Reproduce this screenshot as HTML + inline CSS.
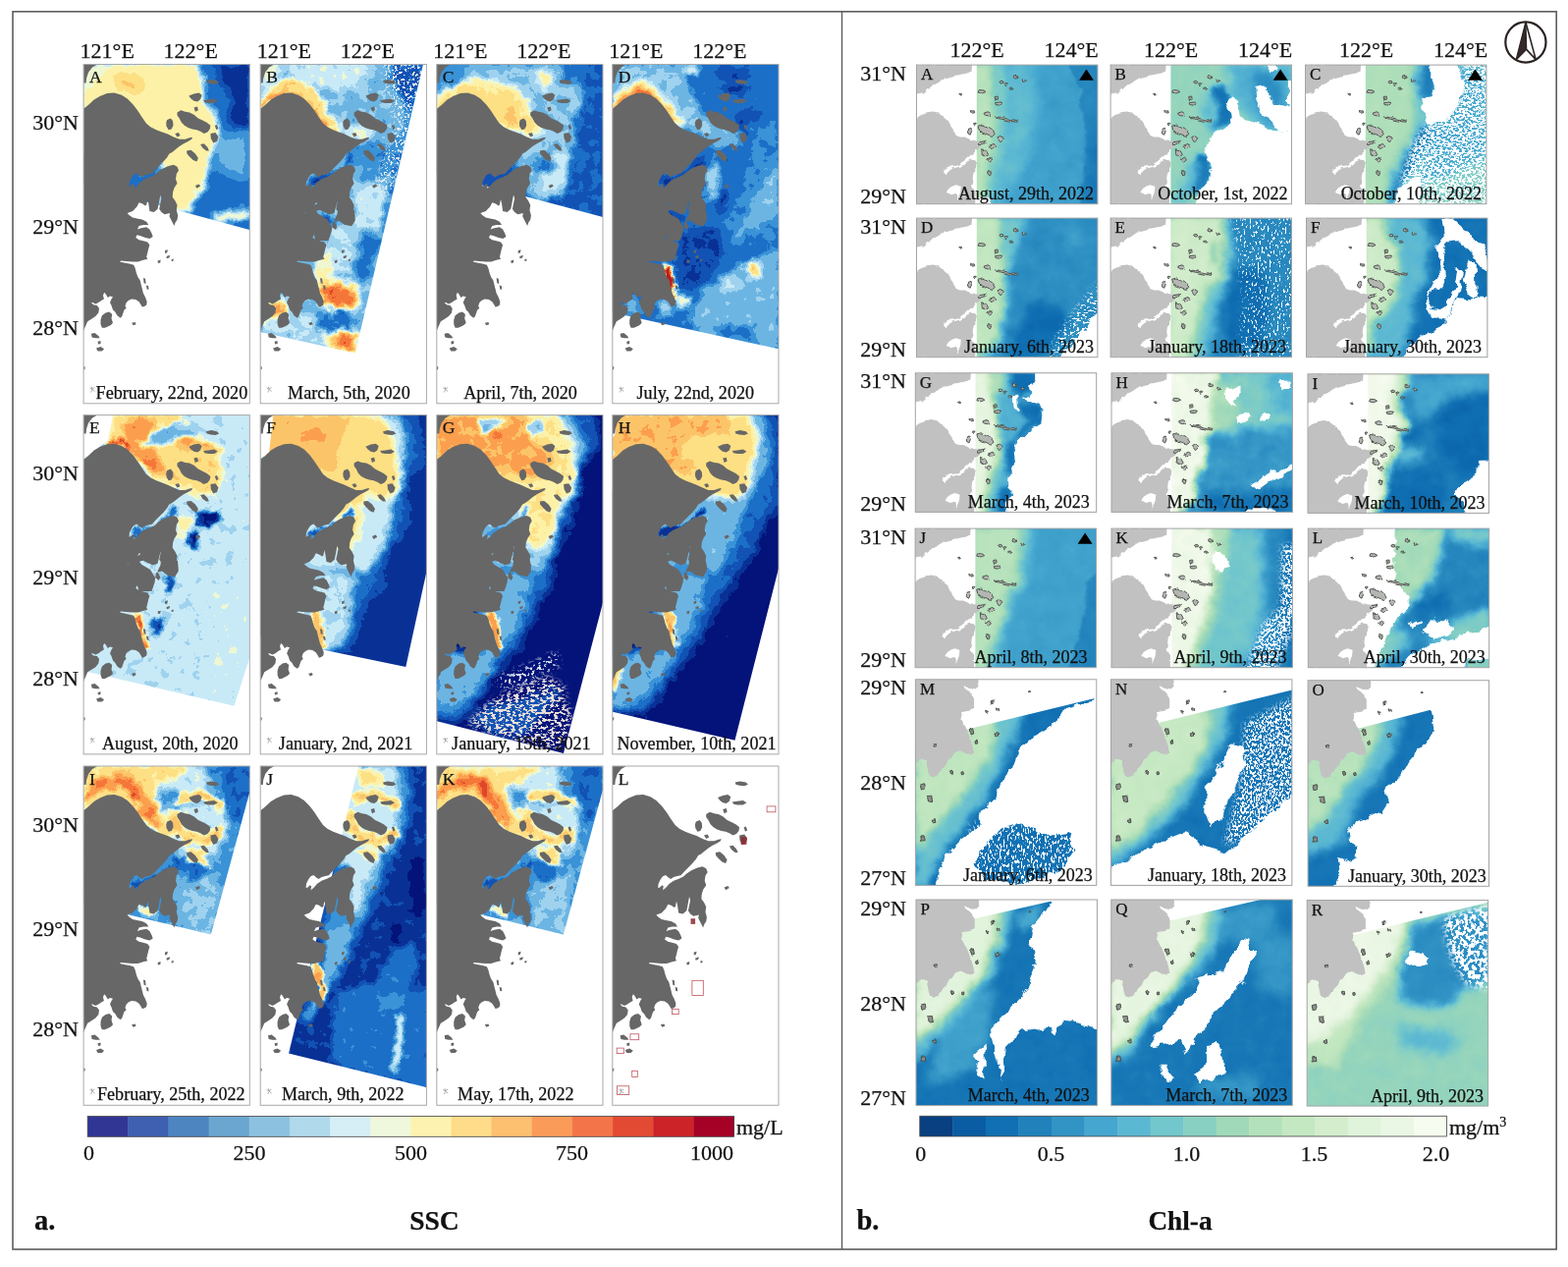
<!DOCTYPE html>
<html><head><meta charset="utf-8"><title>SSC and Chl-a maps</title>
<style>html,body{margin:0;padding:0;background:#fff;overflow:hidden}svg{display:block}text{font-family:'Liberation Serif','Times New Roman',serif;fill:#111;stroke:#111;stroke-width:0.25px}</style></head><body>
<svg width="1597" height="1290" viewBox="0 0 1597 1290">
<rect width="1597" height="1290" fill="#fff"/>
<defs><path id="landL" d="M0.0,45.3 4.8,41.6 10.7,36.0 16.6,32.4 24.0,29.6 31.4,29.1 38.7,31.3 44.6,35.0 50.5,40.9 54.9,46.8 59.3,53.4 63.8,60.1 68.2,63.7 74.1,66.7 80.0,68.9 85.8,71.1 91.7,74.0 97.6,76.3 103.5,76.3 107.9,74.8 110.9,74.3 110.1,76.3 106.5,78.5 102.0,80.7 97.6,83.6 93.9,86.6 90.3,89.5 87.3,91.0 85.1,94.7 81.4,99.1 78.5,102.0 75.5,105.0 72.6,107.9 69.6,111.2 66.0,112.0 62.3,113.1 59.3,115.0 56.4,113.1 54.2,110.9 51.2,112.3 49.0,115.3 46.8,119.7 46.4,124.1 48.3,123.4 50.5,121.2 52.0,122.6 51.2,126.3 54.2,124.1 57.9,119.7 62.3,116.8 68.2,114.5 72.6,112.3 75.5,109.4 80.0,106.4 85.8,103.8 91.7,102.3 95.4,104.2 96.9,107.9 94.7,111.6 93.9,116.8 95.4,121.2 92.5,125.6 91.0,130.0 90.6,135.2 93.2,138.8 95.4,143.3 94.7,148.4 96.1,153.7 95.5,158.1 93.4,161.3 92.3,164.6 90.7,161.3 89.0,158.1 87.4,154.8 88.0,151.6 82.5,152.7 79.3,150.5 77.1,147.2 78.2,141.8 79.3,136.4 78.2,133.1 76.6,141.8 75.5,147.2 71.7,150.5 67.3,149.4 66.2,141.8 65.2,137.5 64.1,142.9 63.0,144.0 59.7,141.8 56.5,140.7 54.3,145.1 50.0,149.4 44.5,151.6 46.7,153.7 50.0,155.9 54.3,157.0 59.7,158.1 64.1,160.3 66.2,163.5 60.8,163.5 56.5,164.6 54.8,167.9 58.6,166.8 64.1,165.7 67.3,167.9 69.5,172.2 70.6,175.5 67.3,177.6 63.0,176.5 57.6,174.4 54.3,173.8 53.2,176.5 56.5,178.7 60.8,179.8 65.2,180.9 67.3,184.1 66.2,187.4 65.2,191.7 64.1,196.1 65.2,198.2 60.8,199.3 55.4,201.0 50.0,201.0 43.5,200.4 38.0,199.9 36.9,201.0 41.3,202.0 46.7,203.1 51.1,204.2 52.7,208.0 53.8,212.4 55.4,216.7 57.6,219.9 58.6,224.3 59.7,228.6 60.8,233.0 63.0,237.3 64.6,241.7 64.1,244.9 61.9,246.5 59.7,247.1 58.6,244.9 56.5,241.7 53.2,239.5 48.9,238.9 45.6,240.6 43.5,242.7 42.4,246.0 43.5,248.2 41.3,250.3 40.2,253.6 39.1,256.8 36.9,258.5 37.2,258.0 34.3,255.8 32.1,252.1 29.9,249.9 28.4,245.5 26.9,242.6 28.4,238.9 29.9,236.7 26.9,235.9 24.7,237.4 22.5,233.7 21.0,232.3 19.9,235.2 20.8,238.9 18.1,240.4 15.2,242.6 12.2,244.0 9.3,242.6 7.8,242.6 10.0,244.8 13.7,245.5 15.9,248.5 15.2,252.9 12.2,256.6 7.8,259.5 4.1,261.7 2.2,266.1 -0.0,271.3 0.0,45.0ZM17.4,260.2 18.8,255.8 22.5,252.9 26.2,252.1 29.1,254.4 28.4,258.8 29.9,263.2 27.7,265.4 24.7,266.9 21.8,268.3 18.8,268.3 17.4,264.7ZM0.0,0.0 14.0,0.0 9.0,3.0 5.0,8.0 3.0,14.0 2.5,19.0 0.0,19.0ZM95.4,49.0 99.1,46.8 103.5,48.3 107.9,49.0 112.4,51.2 116.8,54.9 121.2,57.1 125.6,59.3 129.3,62.3 128.6,65.9 126.3,68.9 122.7,70.4 119.0,68.2 115.3,66.7 110.9,65.9 106.5,64.5 102.8,62.3 99.8,59.3 97.6,54.9 95.4,52.0ZM85.1,56.4 88.8,54.9 91.0,57.8 91.4,62.3 89.5,65.9 86.6,66.7 84.4,63.0 84.1,59.3ZM107.2,32.1 112.4,29.9 117.5,29.1 120.5,31.3 119.0,35.8 116.0,38.0 112.4,37.2 109.4,35.0ZM121.9,36.5 127.1,35.8 133.0,35.0 136.7,37.2 133.0,39.4 127.1,39.4 123.4,38.7ZM124.9,16.6 130.0,15.4 135.9,16.6 138.1,18.8 134.4,20.3 129.3,19.8 125.6,18.8ZM112.4,43.9 116.0,43.1 116.8,46.8 113.8,48.3ZM105.0,88.0 109.4,87.3 113.8,91.0 116.8,95.4 115.3,99.1 111.6,97.6 107.9,93.9 105.3,91.0ZM119.0,81.4 122.7,80.7 126.3,84.4 127.8,88.0 124.9,88.0 121.2,85.1ZM129.3,70.4 134.4,69.6 137.4,74.0 135.9,78.5 132.2,79.9 129.7,75.5ZM93.2,70.4 96.9,69.6 98.4,72.6 95.4,74.0ZM133.7,62.3 135.9,61.5 137.4,65.2 135.2,66.7ZM113.8,123.4 117.5,121.9 119.0,124.1 115.3,126.3ZM7.8,274.2 11.5,273.5 15.2,276.4 16.6,278.7 12.2,278.7 8.5,277.9ZM12.9,289.0 17.4,287.5 21.0,289.7 18.8,291.9 14.4,291.9ZM82.9,189.6 85.8,188.8 85.1,191.8 82.9,192.5ZM84.4,195.4 88.1,194.3 87.3,196.9 84.7,197.7ZM75.5,199.9 78.5,199.1 78.2,202.1 75.8,202.5ZM89.5,198.4 91.7,198.1 91.4,200.2 89.7,200.5ZM60.8,217.5 63.0,218.3 63.5,223.4 61.5,222.7ZM63.8,224.9 66.0,225.6 66.4,229.3 64.5,229.0ZM49.0,263.2 52.7,262.5 53.4,264.7 50.5,265.8ZM14.4,282.3 17.4,281.6 17.4,284.5 14.9,285.0ZM-0.0,307.4 1.6,308.1 1.3,310.6 -0.0,311.1Z" fill="#676767"/>
<clipPath id="clipL"><rect x="0" y="0" width="169.2" height="345.3"/></clipPath>
<filter id="fL0" x="-20%" y="-10%" width="140%" height="120%" color-interpolation-filters="sRGB"><feGaussianBlur in="SourceGraphic" stdDeviation="0.80" result="b"/><feTurbulence type="fractalNoise" baseFrequency="0.090" numOctaves="4" seed="3" result="n"/><feDisplacementMap in="b" in2="n" scale="8.0" xChannelSelector="R" yChannelSelector="G" result="d"/><feComponentTransfer in="d"><feFuncR type="discrete" tableValues="0.012 0.039 0.067 0.110 0.231 0.427 0.624 0.788 0.933 0.992 0.996 0.992 0.988 0.961 0.878 0.722"/><feFuncG type="discrete" tableValues="0.078 0.196 0.322 0.439 0.576 0.710 0.827 0.918 0.973 0.949 0.878 0.769 0.627 0.463 0.282 0.114"/><feFuncB type="discrete" tableValues="0.475 0.588 0.706 0.784 0.847 0.894 0.937 0.969 0.831 0.651 0.518 0.408 0.306 0.227 0.165 0.141"/><feFuncA type="linear" slope="0" intercept="1"/></feComponentTransfer></filter>
<clipPath id="swL0"><polygon points="-5.0,-5.0 175.0,-5.0 175.0,170.0 98.2,149.3 -5.0,121.0" fill="#000"/></clipPath>
<filter id="fL1" x="-20%" y="-10%" width="140%" height="120%" color-interpolation-filters="sRGB"><feGaussianBlur in="SourceGraphic" stdDeviation="0.80" result="b"/><feTurbulence type="fractalNoise" baseFrequency="0.090" numOctaves="4" seed="4" result="n"/><feDisplacementMap in="b" in2="n" scale="12.0" xChannelSelector="R" yChannelSelector="G" result="d"/><feColorMatrix in="n" type="matrix" values="0 0 1 0 0  0 0 1 0 0  0 0 1 0 0  0 0 0 0 1" result="ng"/><feComposite in="d" in2="ng" operator="arithmetic" k1="0" k2="1" k3="0.160" k4="-0.080" result="dn"/><feComponentTransfer in="dn"><feFuncR type="discrete" tableValues="0.012 0.039 0.067 0.110 0.231 0.427 0.624 0.788 0.933 0.992 0.996 0.992 0.988 0.961 0.878 0.722"/><feFuncG type="discrete" tableValues="0.078 0.196 0.322 0.439 0.576 0.710 0.827 0.918 0.973 0.949 0.878 0.769 0.627 0.463 0.282 0.114"/><feFuncB type="discrete" tableValues="0.475 0.588 0.706 0.784 0.847 0.894 0.937 0.969 0.831 0.651 0.518 0.408 0.306 0.227 0.165 0.141"/><feFuncA type="linear" slope="0" intercept="1"/></feComponentTransfer></filter>
<clipPath id="swL1"><polygon points="-5.0,-5.0 167.2,-5.0 165.8,0.0 96.6,294.1 -5.0,271.5" fill="#000"/></clipPath>
<filter id="spL1_0" x="-10%" y="-10%" width="120%" height="120%" color-interpolation-filters="sRGB"><feTurbulence type="fractalNoise" baseFrequency="0.4 0.4" numOctaves="2" seed="10" result="n"/><feColorMatrix in="n" type="matrix" values="0 0 0 0 0.957  0 0 0 0 0.945  0 0 0 0 0.933  14 0 0 0 -7.70" result="sp"/><feGaussianBlur in="SourceAlpha" stdDeviation="3" result="sa"/><feComposite in="sp" in2="sa" operator="in"/></filter>
<filter id="fL2" x="-20%" y="-10%" width="140%" height="120%" color-interpolation-filters="sRGB"><feGaussianBlur in="SourceGraphic" stdDeviation="0.80" result="b"/><feTurbulence type="fractalNoise" baseFrequency="0.090" numOctaves="4" seed="5" result="n"/><feDisplacementMap in="b" in2="n" scale="12.0" xChannelSelector="R" yChannelSelector="G" result="d"/><feColorMatrix in="n" type="matrix" values="0 0 1 0 0  0 0 1 0 0  0 0 1 0 0  0 0 0 0 1" result="ng"/><feComposite in="d" in2="ng" operator="arithmetic" k1="0" k2="1" k3="0.080" k4="-0.040" result="dn"/><feComponentTransfer in="dn"><feFuncR type="discrete" tableValues="0.012 0.039 0.067 0.110 0.231 0.427 0.624 0.788 0.933 0.992 0.996 0.992 0.988 0.961 0.878 0.722"/><feFuncG type="discrete" tableValues="0.078 0.196 0.322 0.439 0.576 0.710 0.827 0.918 0.973 0.949 0.878 0.769 0.627 0.463 0.282 0.114"/><feFuncB type="discrete" tableValues="0.475 0.588 0.706 0.784 0.847 0.894 0.937 0.969 0.831 0.651 0.518 0.408 0.306 0.227 0.165 0.141"/><feFuncA type="linear" slope="0" intercept="1"/></feComponentTransfer></filter>
<clipPath id="swL2"><polygon points="-5.0,-5.0 175.0,-5.0 175.0,157.0 98.9,136.8 -5.0,109.5" fill="#000"/></clipPath>
<filter id="fL3" x="-20%" y="-10%" width="140%" height="120%" color-interpolation-filters="sRGB"><feGaussianBlur in="SourceGraphic" stdDeviation="0.80" result="b"/><feTurbulence type="fractalNoise" baseFrequency="0.090" numOctaves="4" seed="6" result="n"/><feDisplacementMap in="b" in2="n" scale="12.0" xChannelSelector="R" yChannelSelector="G" result="d"/><feColorMatrix in="n" type="matrix" values="0 0 1 0 0  0 0 1 0 0  0 0 1 0 0  0 0 0 0 1" result="ng"/><feComposite in="d" in2="ng" operator="arithmetic" k1="0" k2="1" k3="0.100" k4="-0.050" result="dn"/><feComponentTransfer in="dn"><feFuncR type="discrete" tableValues="0.012 0.039 0.067 0.110 0.231 0.427 0.624 0.788 0.933 0.992 0.996 0.992 0.988 0.961 0.878 0.722"/><feFuncG type="discrete" tableValues="0.078 0.196 0.322 0.439 0.576 0.710 0.827 0.918 0.973 0.949 0.878 0.769 0.627 0.463 0.282 0.114"/><feFuncB type="discrete" tableValues="0.475 0.588 0.706 0.784 0.847 0.894 0.937 0.969 0.831 0.651 0.518 0.408 0.306 0.227 0.165 0.141"/><feFuncA type="linear" slope="0" intercept="1"/></feComponentTransfer></filter>
<clipPath id="swL3"><polygon points="-5.0,-5.0 175.0,-5.0 175.0,291.0 34.2,260.2 -5.0,251.5" fill="#000"/></clipPath>
<filter id="fL4" x="-20%" y="-10%" width="140%" height="120%" color-interpolation-filters="sRGB"><feGaussianBlur in="SourceGraphic" stdDeviation="0.80" result="b"/><feTurbulence type="fractalNoise" baseFrequency="0.090" numOctaves="4" seed="7" result="n"/><feDisplacementMap in="b" in2="n" scale="12.0" xChannelSelector="R" yChannelSelector="G" result="d"/><feColorMatrix in="n" type="matrix" values="0 0 1 0 0  0 0 1 0 0  0 0 1 0 0  0 0 0 0 1" result="ng"/><feComposite in="d" in2="ng" operator="arithmetic" k1="0" k2="1" k3="0.120" k4="-0.060" result="dn"/><feComponentTransfer in="dn"><feFuncR type="discrete" tableValues="0.012 0.039 0.067 0.110 0.231 0.427 0.624 0.788 0.933 0.992 0.996 0.992 0.988 0.961 0.878 0.722"/><feFuncG type="discrete" tableValues="0.078 0.196 0.322 0.439 0.576 0.710 0.827 0.918 0.973 0.949 0.878 0.769 0.627 0.463 0.282 0.114"/><feFuncB type="discrete" tableValues="0.475 0.588 0.706 0.784 0.847 0.894 0.937 0.969 0.831 0.651 0.518 0.408 0.306 0.227 0.165 0.141"/><feFuncA type="linear" slope="0" intercept="1"/></feComponentTransfer></filter>
<clipPath id="swL4"><polygon points="30.4,-1.8 171.1,-1.8 171.1,241.0 153.4,296.2 -1.3,260.1 -1.3,45.4 24.5,26.2" fill="#000"/></clipPath>
<filter id="fL5" x="-20%" y="-10%" width="140%" height="120%" color-interpolation-filters="sRGB"><feGaussianBlur in="SourceGraphic" stdDeviation="0.80" result="b"/><feTurbulence type="fractalNoise" baseFrequency="0.090" numOctaves="4" seed="8" result="n"/><feDisplacementMap in="b" in2="n" scale="10.0" xChannelSelector="R" yChannelSelector="G" result="d"/><feColorMatrix in="n" type="matrix" values="0 0 1 0 0  0 0 1 0 0  0 0 1 0 0  0 0 0 0 1" result="ng"/><feComposite in="d" in2="ng" operator="arithmetic" k1="0" k2="1" k3="0.070" k4="-0.035" result="dn"/><feComponentTransfer in="dn"><feFuncR type="discrete" tableValues="0.012 0.039 0.067 0.110 0.231 0.427 0.624 0.788 0.933 0.992 0.996 0.992 0.988 0.961 0.878 0.722"/><feFuncG type="discrete" tableValues="0.078 0.196 0.322 0.439 0.576 0.710 0.827 0.918 0.973 0.949 0.878 0.769 0.627 0.463 0.282 0.114"/><feFuncB type="discrete" tableValues="0.475 0.588 0.706 0.784 0.847 0.894 0.937 0.969 0.831 0.651 0.518 0.408 0.306 0.227 0.165 0.141"/><feFuncA type="linear" slope="0" intercept="1"/></feComponentTransfer></filter>
<clipPath id="swL5"><polygon points="13.4,-1.8 171.0,-1.8 171.0,151.4 148.1,256.5 63.4,238.8 -1.4,225.2 -1.4,45.4 8.9,38.0" fill="#000"/></clipPath>
<filter id="fL6" x="-20%" y="-10%" width="140%" height="120%" color-interpolation-filters="sRGB"><feGaussianBlur in="SourceGraphic" stdDeviation="0.80" result="b"/><feTurbulence type="fractalNoise" baseFrequency="0.090" numOctaves="4" seed="9" result="n"/><feDisplacementMap in="b" in2="n" scale="10.0" xChannelSelector="R" yChannelSelector="G" result="d"/><feColorMatrix in="n" type="matrix" values="0 0 1 0 0  0 0 1 0 0  0 0 1 0 0  0 0 0 0 1" result="ng"/><feComposite in="d" in2="ng" operator="arithmetic" k1="0" k2="1" k3="0.070" k4="-0.035" result="dn"/><feComponentTransfer in="dn"><feFuncR type="discrete" tableValues="0.012 0.039 0.067 0.110 0.231 0.427 0.624 0.788 0.933 0.992 0.996 0.992 0.988 0.961 0.878 0.722"/><feFuncG type="discrete" tableValues="0.078 0.196 0.322 0.439 0.576 0.710 0.827 0.918 0.973 0.949 0.878 0.769 0.627 0.463 0.282 0.114"/><feFuncB type="discrete" tableValues="0.475 0.588 0.706 0.784 0.847 0.894 0.937 0.969 0.831 0.651 0.518 0.408 0.306 0.227 0.165 0.141"/><feFuncA type="linear" slope="0" intercept="1"/></feComponentTransfer></filter>
<clipPath id="swL6"><polygon points="-5.0,-5.0 175.0,-5.0 170.4,186.5 129.1,344.4 -2.0,311.1" fill="#000"/></clipPath>
<filter id="spL6_0" x="-10%" y="-10%" width="120%" height="120%" color-interpolation-filters="sRGB"><feTurbulence type="fractalNoise" baseFrequency="0.25 0.4" numOctaves="2" seed="15" result="n"/><feColorMatrix in="n" type="matrix" values="0 0 0 0 0.918  0 0 0 0 0.875  0 0 0 0 0.847  14 0 0 0 -7.00" result="sp"/><feGaussianBlur in="SourceAlpha" stdDeviation="3" result="sa"/><feComposite in="sp" in2="sa" operator="in"/></filter>
<filter id="spL6_1" x="-10%" y="-10%" width="120%" height="120%" color-interpolation-filters="sRGB"><feTurbulence type="fractalNoise" baseFrequency="0.3 0.3" numOctaves="2" seed="16" result="n"/><feColorMatrix in="n" type="matrix" values="0 0 0 0 0.875  0 0 0 0 0.914  0 0 0 0 0.949  14 0 0 0 -7.84" result="sp"/><feGaussianBlur in="SourceAlpha" stdDeviation="3" result="sa"/><feComposite in="sp" in2="sa" operator="in"/></filter>
<filter id="fL7" x="-20%" y="-10%" width="140%" height="120%" color-interpolation-filters="sRGB"><feGaussianBlur in="SourceGraphic" stdDeviation="0.80" result="b"/><feTurbulence type="fractalNoise" baseFrequency="0.090" numOctaves="4" seed="10" result="n"/><feDisplacementMap in="b" in2="n" scale="10.0" xChannelSelector="R" yChannelSelector="G" result="d"/><feColorMatrix in="n" type="matrix" values="0 0 1 0 0  0 0 1 0 0  0 0 1 0 0  0 0 0 0 1" result="ng"/><feComposite in="d" in2="ng" operator="arithmetic" k1="0" k2="1" k3="0.070" k4="-0.035" result="dn"/><feComponentTransfer in="dn"><feFuncR type="discrete" tableValues="0.012 0.039 0.067 0.110 0.231 0.427 0.624 0.788 0.933 0.992 0.996 0.992 0.988 0.961 0.878 0.722"/><feFuncG type="discrete" tableValues="0.078 0.196 0.322 0.439 0.576 0.710 0.827 0.918 0.973 0.949 0.878 0.769 0.627 0.463 0.282 0.114"/><feFuncB type="discrete" tableValues="0.475 0.588 0.706 0.784 0.847 0.894 0.937 0.969 0.831 0.651 0.518 0.408 0.306 0.227 0.165 0.141"/><feFuncA type="linear" slope="0" intercept="1"/></feComponentTransfer></filter>
<clipPath id="swL7"><polygon points="5.4,-1.8 170.4,-1.8 170.4,151.4 124.7,331.1 -2.0,301.7 -2.0,26.2 3.2,18.9 3.2,8.5" fill="#000"/></clipPath>
<filter id="fL8" x="-20%" y="-10%" width="140%" height="120%" color-interpolation-filters="sRGB"><feGaussianBlur in="SourceGraphic" stdDeviation="0.80" result="b"/><feTurbulence type="fractalNoise" baseFrequency="0.090" numOctaves="4" seed="11" result="n"/><feDisplacementMap in="b" in2="n" scale="12.0" xChannelSelector="R" yChannelSelector="G" result="d"/><feColorMatrix in="n" type="matrix" values="0 0 1 0 0  0 0 1 0 0  0 0 1 0 0  0 0 0 0 1" result="ng"/><feComposite in="d" in2="ng" operator="arithmetic" k1="0" k2="1" k3="0.160" k4="-0.080" result="dn"/><feComponentTransfer in="dn"><feFuncR type="discrete" tableValues="0.012 0.039 0.067 0.110 0.231 0.427 0.624 0.788 0.933 0.992 0.996 0.992 0.988 0.961 0.878 0.722"/><feFuncG type="discrete" tableValues="0.078 0.196 0.322 0.439 0.576 0.710 0.827 0.918 0.973 0.949 0.878 0.769 0.627 0.463 0.282 0.114"/><feFuncB type="discrete" tableValues="0.475 0.588 0.706 0.784 0.847 0.894 0.937 0.969 0.831 0.651 0.518 0.408 0.306 0.227 0.165 0.141"/><feFuncA type="linear" slope="0" intercept="1"/></feComponentTransfer></filter>
<clipPath id="swL8"><polygon points="-5.0,-5.0 175.0,-5.0 171.1,19.5 129.8,171.5 -1.3,139.9" fill="#000"/></clipPath>
<filter id="fL9" x="-20%" y="-10%" width="140%" height="120%" color-interpolation-filters="sRGB"><feGaussianBlur in="SourceGraphic" stdDeviation="0.80" result="b"/><feTurbulence type="fractalNoise" baseFrequency="0.090" numOctaves="4" seed="12" result="n"/><feDisplacementMap in="b" in2="n" scale="10.0" xChannelSelector="R" yChannelSelector="G" result="d"/><feColorMatrix in="n" type="matrix" values="0 0 1 0 0  0 0 1 0 0  0 0 1 0 0  0 0 0 0 1" result="ng"/><feComposite in="d" in2="ng" operator="arithmetic" k1="0" k2="1" k3="0.080" k4="-0.040" result="dn"/><feComponentTransfer in="dn"><feFuncR type="discrete" tableValues="0.012 0.039 0.067 0.110 0.231 0.427 0.624 0.788 0.933 0.992 0.996 0.992 0.988 0.961 0.878 0.722"/><feFuncG type="discrete" tableValues="0.078 0.196 0.322 0.439 0.576 0.710 0.827 0.918 0.973 0.949 0.878 0.769 0.627 0.463 0.282 0.114"/><feFuncB type="discrete" tableValues="0.475 0.588 0.706 0.784 0.847 0.894 0.937 0.969 0.831 0.651 0.518 0.408 0.306 0.227 0.165 0.141"/><feFuncA type="linear" slope="0" intercept="1"/></feComponentTransfer></filter>
<clipPath id="swL9"><polygon points="100.3,-1.2 171.0,-1.2 171.0,327.5 28.8,292.4" fill="#000"/></clipPath>
<filter id="fL10" x="-20%" y="-10%" width="140%" height="120%" color-interpolation-filters="sRGB"><feGaussianBlur in="SourceGraphic" stdDeviation="0.80" result="b"/><feTurbulence type="fractalNoise" baseFrequency="0.090" numOctaves="4" seed="13" result="n"/><feDisplacementMap in="b" in2="n" scale="12.0" xChannelSelector="R" yChannelSelector="G" result="d"/><feColorMatrix in="n" type="matrix" values="0 0 1 0 0  0 0 1 0 0  0 0 1 0 0  0 0 0 0 1" result="ng"/><feComposite in="d" in2="ng" operator="arithmetic" k1="0" k2="1" k3="0.160" k4="-0.080" result="dn"/><feComponentTransfer in="dn"><feFuncR type="discrete" tableValues="0.012 0.039 0.067 0.110 0.231 0.427 0.624 0.788 0.933 0.992 0.996 0.992 0.988 0.961 0.878 0.722"/><feFuncG type="discrete" tableValues="0.078 0.196 0.322 0.439 0.576 0.710 0.827 0.918 0.973 0.949 0.878 0.769 0.627 0.463 0.282 0.114"/><feFuncB type="discrete" tableValues="0.475 0.588 0.706 0.784 0.847 0.894 0.937 0.969 0.831 0.651 0.518 0.408 0.306 0.227 0.165 0.141"/><feFuncA type="linear" slope="0" intercept="1"/></feComponentTransfer></filter>
<clipPath id="swL10"><polygon points="-5.0,-5.0 175.0,-5.0 170.4,19.5 129.1,171.5 -2.0,139.9" fill="#000"/></clipPath>
<filter id="gb1_2" x="-50%" y="-50%" width="200%" height="200%" color-interpolation-filters="sRGB"><feGaussianBlur stdDeviation="1.2"/></filter>
<filter id="gb1_3" x="-50%" y="-50%" width="200%" height="200%" color-interpolation-filters="sRGB"><feGaussianBlur stdDeviation="1.3"/></filter>
<filter id="gb1_5" x="-50%" y="-50%" width="200%" height="200%" color-interpolation-filters="sRGB"><feGaussianBlur stdDeviation="1.5"/></filter>
<filter id="gb2" x="-50%" y="-50%" width="200%" height="200%" color-interpolation-filters="sRGB"><feGaussianBlur stdDeviation="2"/></filter>
<filter id="gb2_5" x="-50%" y="-50%" width="200%" height="200%" color-interpolation-filters="sRGB"><feGaussianBlur stdDeviation="2.5"/></filter>
<filter id="gb3" x="-50%" y="-50%" width="200%" height="200%" color-interpolation-filters="sRGB"><feGaussianBlur stdDeviation="3"/></filter>
<filter id="gb3_5" x="-50%" y="-50%" width="200%" height="200%" color-interpolation-filters="sRGB"><feGaussianBlur stdDeviation="3.5"/></filter>
<filter id="gb4" x="-50%" y="-50%" width="200%" height="200%" color-interpolation-filters="sRGB"><feGaussianBlur stdDeviation="4"/></filter>
<filter id="gb5" x="-50%" y="-50%" width="200%" height="200%" color-interpolation-filters="sRGB"><feGaussianBlur stdDeviation="5"/></filter>
<filter id="gb6" x="-50%" y="-50%" width="200%" height="200%" color-interpolation-filters="sRGB"><feGaussianBlur stdDeviation="6"/></filter>
<filter id="org" x="-5%%" y="-5%%" width="110%%" height="110%%"><feTurbulence type="fractalNoise" baseFrequency="0.13" numOctaves="2" seed="3" result="n"/><feDisplacementMap in="SourceGraphic" in2="n" scale="4" xChannelSelector="R" yChannelSelector="G"/></filter>
<g id="landRT" filter="url(#org)"><path d="M-1.0,-0.6 56.6,-0.6 56.0,5.7 52.9,8.2 46.6,9.4 39.1,10.7 31.6,12.6 25.3,15.7 20.3,19.5 15.3,22.0 11.5,24.5 9.0,27.0 7.8,29.5 4.0,29.5 -1.0,31.0ZM-1.0,56.0 4.0,52.0 9.0,49.5 16.5,48.3 22.8,49.5 27.8,53.3 31.6,57.0 34.7,62.0 37.2,67.0 40.3,70.8 44.1,73.3 49.1,73.3 54.1,75.6 59.1,77.1 64.1,77.6 69.4,77.1 70.6,78.6 67.9,81.4 64.1,84.3 59.8,87.1 56.0,90.8 52.9,94.0 49.1,97.1 45.4,99.6 41.6,102.1 36.6,103.4 31.6,104.0 29.1,105.9 27.2,109.6 29.1,112.1 31.6,109.6 34.1,107.1 37.8,105.2 42.8,104.0 47.9,101.5 51.6,98.3 55.4,96.5 59.8,97.1 61.9,100.9 60.4,104.6 57.9,109.6 57.2,114.6 57.9,119.6 56.6,123.4 54.1,124.6 50.4,122.1 47.9,124.6 44.1,123.4 40.3,122.1 36.6,123.4 32.8,125.9 30.3,129.7 34.1,132.2 39.1,130.9 41.6,133.4 41.6,137.2 44.1,142.2 -1.0,142.2ZM45.4,122.8 50.4,120.9 56.6,123.4 60.1,129.7 59.8,142.2 43.5,142.2 42.2,135.9 44.7,129.7Z" fill="#c1c1c1"/><path d="M62.6,63.1 67.6,61.9 72.6,63.6 77.6,67.1 79.8,70.3 77.6,72.3 72.6,71.3 67.6,69.3 63.6,67.1ZM51.9,65.1 54.6,64.3 56.1,67.7 54.6,71.2 52.3,69.7ZM68.8,48.9 72.8,47.7 75.8,49.7 75.3,52.2 71.8,52.9 69.0,51.5ZM80.1,38.5 85.1,38.0 87.6,39.5 85.1,41.0 80.6,40.5ZM88.5,19.0 91.5,18.0 93.0,20.0 90.5,21.5ZM99.7,12.1 102.7,11.1 103.7,13.1 100.7,14.1ZM107.7,14.7 110.2,14.2 110.7,16.7 108.2,17.2ZM63.6,25.5 68.6,26.0 70.6,27.5 66.6,29.0 62.6,28.0ZM80.9,52.7 87.9,53.7 91.9,54.7 97.9,55.7 102.9,56.7 102.4,58.2 96.9,57.2 90.9,56.2 83.9,54.7ZM66.2,85.6 71.2,87.6 73.2,91.6 70.2,93.6 66.7,90.6ZM73.8,82.3 78.9,80.3 80.9,83.3 76.8,86.3ZM82.5,74.7 86.5,72.7 88.5,75.7 85.5,78.8ZM72.3,96.0 75.3,94.0 77.3,97.0 74.3,99.0ZM64.7,78.6 69.7,77.6 70.7,79.6 66.7,81.6 63.7,81.1ZM72.1,108.7 76.1,108.7 75.1,111.7 72.6,111.2ZM84.5,17.1 86.6,16.1 87.6,18.1 85.6,19.1ZM94.6,23.4 97.1,22.9 97.6,24.6 95.1,25.2ZM79.6,33.4 82.6,32.9 83.1,34.9 80.1,35.4ZM58.2,58.5 60.2,58.0 60.7,60.0 58.7,60.5ZM43.2,29.6 45.7,29.1 46.2,30.6 43.7,31.2ZM54.7,47.2 58.7,46.7 59.2,48.7 55.2,49.2Z" fill="#b4b6b2" stroke="#444a43" stroke-width="0.9"/></g>
<g id="landRB" filter="url(#org)"><path d="M-1.0,-1.0 63.3,-1.0 65.0,5.3 61.5,10.6 54.4,8.9 49.1,6.2 50.9,10.6 56.2,14.2 59.7,19.5 59.7,28.3 54.4,31.8 45.6,33.6 47.4,40.7 50.9,47.7 54.4,56.6 58.0,67.2 59.7,74.2 52.7,76.0 45.6,72.5 40.3,74.2 36.8,79.5 33.2,84.8 27.9,90.1 24.4,97.2 19.1,99.0 13.8,97.2 12.0,90.1 10.3,83.1 6.7,79.5 3.2,83.1 -1.0,86.6Z" fill="#c1c1c1"/><path d="M80.5,54.2 83.7,53.7 84.2,57.4 81.6,58.4ZM55.7,50.9 58.3,49.9 59.4,55.2 56.7,56.2ZM60.6,62.9 62.7,62.4 63.3,66.1 61.2,66.6ZM17.0,66.3 20.2,65.8 21.2,68.9 18.0,69.5ZM34.3,93.0 36.9,92.4 37.5,96.1 34.8,96.7ZM5.0,107.1 9.2,106.0 10.3,110.3 6.0,111.3ZM12.0,119.9 16.3,119.4 17.3,124.2 13.1,125.2ZM16.8,142.4 20.0,141.9 20.5,145.6 17.3,146.1ZM5.5,160.3 9.2,159.8 9.7,164.0 6.0,164.5ZM76.7,22.0 79.3,21.0 79.9,24.7 77.2,25.2ZM82.0,29.2 84.6,28.7 85.2,31.8 82.5,32.4ZM71.2,31.5 73.3,31.0 73.9,33.1 71.8,33.6ZM115.1,11.1 116.7,10.6 117.1,12.7 115.5,13.0ZM46.5,94.4 48.6,93.9 49.1,96.5 47.0,97.0Z" fill="#8d918b" stroke="#3f443e" stroke-width="0.9"/></g>
<clipPath id="clipRT"><rect x="0" y="0" width="184.4" height="141.6"/></clipPath>
<clipPath id="clipRB"><rect x="0" y="0" width="184.4" height="209.6"/></clipPath>
<clipPath id="dataRT"><rect x="61.3" y="0" width="123.1" height="141.6"/></clipPath>
<filter id="cl1" x="-20%" y="-20%" width="140%" height="140%" color-interpolation-filters="sRGB"><feTurbulence type="fractalNoise" baseFrequency="0.09" numOctaves="3" seed="7" result="n"/><feDisplacementMap in="SourceGraphic" in2="n" scale="9" xChannelSelector="R" yChannelSelector="G"/></filter>
<filter id="fR0" x="-20%" y="-10%" width="140%" height="120%" color-interpolation-filters="sRGB"><feGaussianBlur in="SourceGraphic" stdDeviation="0.80" result="b"/><feTurbulence type="fractalNoise" baseFrequency="0.060" numOctaves="3" seed="11" result="n"/><feDisplacementMap in="b" in2="n" scale="10.0" xChannelSelector="R" yChannelSelector="G" result="d"/><feColorMatrix in="n" type="matrix" values="0 0 1 0 0  0 0 1 0 0  0 0 1 0 0  0 0 0 0 1" result="ng"/><feComposite in="d" in2="ng" operator="arithmetic" k1="0" k2="1" k3="0.060" k4="-0.030" result="dn"/><feComponentTransfer in="dn"><feFuncR type="table" tableValues="0.031 0.039 0.063 0.125 0.196 0.271 0.357 0.447 0.533 0.627 0.702 0.769 0.827 0.878 0.922 0.969"/><feFuncG type="table" tableValues="0.251 0.365 0.439 0.506 0.576 0.651 0.722 0.780 0.816 0.851 0.882 0.910 0.929 0.953 0.969 0.988"/><feFuncB type="table" tableValues="0.506 0.639 0.702 0.733 0.773 0.812 0.827 0.800 0.761 0.725 0.733 0.761 0.804 0.859 0.898 0.941"/><feFuncA type="linear" slope="0" intercept="1"/></feComponentTransfer></filter>
<filter id="fR1" x="-20%" y="-10%" width="140%" height="120%" color-interpolation-filters="sRGB"><feGaussianBlur in="SourceGraphic" stdDeviation="0.80" result="b"/><feTurbulence type="fractalNoise" baseFrequency="0.060" numOctaves="3" seed="12" result="n"/><feDisplacementMap in="b" in2="n" scale="10.0" xChannelSelector="R" yChannelSelector="G" result="d"/><feColorMatrix in="n" type="matrix" values="0 0 1 0 0  0 0 1 0 0  0 0 1 0 0  0 0 0 0 1" result="ng"/><feComposite in="d" in2="ng" operator="arithmetic" k1="0" k2="1" k3="0.060" k4="-0.030" result="dn"/><feComponentTransfer in="dn"><feFuncR type="table" tableValues="0.031 0.039 0.063 0.125 0.196 0.271 0.357 0.447 0.533 0.627 0.702 0.769 0.827 0.878 0.922 0.969"/><feFuncG type="table" tableValues="0.251 0.365 0.439 0.506 0.576 0.651 0.722 0.780 0.816 0.851 0.882 0.910 0.929 0.953 0.969 0.988"/><feFuncB type="table" tableValues="0.506 0.639 0.702 0.733 0.773 0.812 0.827 0.800 0.761 0.725 0.733 0.761 0.804 0.859 0.898 0.941"/><feFuncA type="linear" slope="0" intercept="1"/></feComponentTransfer></filter>
<filter id="fR2" x="-20%" y="-10%" width="140%" height="120%" color-interpolation-filters="sRGB"><feGaussianBlur in="SourceGraphic" stdDeviation="0.80" result="b"/><feTurbulence type="fractalNoise" baseFrequency="0.060" numOctaves="3" seed="13" result="n"/><feDisplacementMap in="b" in2="n" scale="10.0" xChannelSelector="R" yChannelSelector="G" result="d"/><feColorMatrix in="n" type="matrix" values="0 0 1 0 0  0 0 1 0 0  0 0 1 0 0  0 0 0 0 1" result="ng"/><feComposite in="d" in2="ng" operator="arithmetic" k1="0" k2="1" k3="0.050" k4="-0.025" result="dn"/><feComponentTransfer in="dn"><feFuncR type="table" tableValues="0.031 0.039 0.063 0.125 0.196 0.271 0.357 0.447 0.533 0.627 0.702 0.769 0.827 0.878 0.922 0.969"/><feFuncG type="table" tableValues="0.251 0.365 0.439 0.506 0.576 0.651 0.722 0.780 0.816 0.851 0.882 0.910 0.929 0.953 0.969 0.988"/><feFuncB type="table" tableValues="0.506 0.639 0.702 0.733 0.773 0.812 0.827 0.800 0.761 0.725 0.733 0.761 0.804 0.859 0.898 0.941"/><feFuncA type="linear" slope="0" intercept="1"/></feComponentTransfer></filter>
<filter id="sp2_47" x="-10%" y="-10%" width="120%" height="120%" color-interpolation-filters="sRGB"><feTurbulence type="fractalNoise" baseFrequency="0.35 0.45" numOctaves="2" seed="7" result="n"/><feColorMatrix in="n" type="matrix" values="0 0 0 0 1  0 0 0 0 1  0 0 0 0 1  14 0 0 0 -6.30" result="sp"/><feGaussianBlur in="SourceAlpha" stdDeviation="3" result="sa"/><feComposite in="sp" in2="sa" operator="in"/></filter>
<filter id="fR3" x="-20%" y="-10%" width="140%" height="120%" color-interpolation-filters="sRGB"><feGaussianBlur in="SourceGraphic" stdDeviation="0.80" result="b"/><feTurbulence type="fractalNoise" baseFrequency="0.060" numOctaves="3" seed="14" result="n"/><feDisplacementMap in="b" in2="n" scale="10.0" xChannelSelector="R" yChannelSelector="G" result="d"/><feColorMatrix in="n" type="matrix" values="0 0 1 0 0  0 0 1 0 0  0 0 1 0 0  0 0 0 0 1" result="ng"/><feComposite in="d" in2="ng" operator="arithmetic" k1="0" k2="1" k3="0.070" k4="-0.035" result="dn"/><feComponentTransfer in="dn"><feFuncR type="table" tableValues="0.031 0.039 0.063 0.125 0.196 0.271 0.357 0.447 0.533 0.627 0.702 0.769 0.827 0.878 0.922 0.969"/><feFuncG type="table" tableValues="0.251 0.365 0.439 0.506 0.576 0.651 0.722 0.780 0.816 0.851 0.882 0.910 0.929 0.953 0.969 0.988"/><feFuncB type="table" tableValues="0.506 0.639 0.702 0.733 0.773 0.812 0.827 0.800 0.761 0.725 0.733 0.761 0.804 0.859 0.898 0.941"/><feFuncA type="linear" slope="0" intercept="1"/></feComponentTransfer></filter>
<filter id="sp3_49" x="-10%" y="-10%" width="120%" height="120%" color-interpolation-filters="sRGB"><feTurbulence type="fractalNoise" baseFrequency="0.3 0.5" numOctaves="2" seed="8" result="n"/><feColorMatrix in="n" type="matrix" values="0 0 0 0 1  0 0 0 0 1  0 0 0 0 1  14 0 0 0 -7.84" result="sp"/><feGaussianBlur in="SourceAlpha" stdDeviation="3" result="sa"/><feComposite in="sp" in2="sa" operator="in"/></filter>
<filter id="fR4" x="-20%" y="-10%" width="140%" height="120%" color-interpolation-filters="sRGB"><feGaussianBlur in="SourceGraphic" stdDeviation="0.80" result="b"/><feTurbulence type="fractalNoise" baseFrequency="0.060" numOctaves="3" seed="15" result="n"/><feDisplacementMap in="b" in2="n" scale="10.0" xChannelSelector="R" yChannelSelector="G" result="d"/><feColorMatrix in="n" type="matrix" values="0 0 1 0 0  0 0 1 0 0  0 0 1 0 0  0 0 0 0 1" result="ng"/><feComposite in="d" in2="ng" operator="arithmetic" k1="0" k2="1" k3="0.070" k4="-0.035" result="dn"/><feComponentTransfer in="dn"><feFuncR type="table" tableValues="0.031 0.039 0.063 0.125 0.196 0.271 0.357 0.447 0.533 0.627 0.702 0.769 0.827 0.878 0.922 0.969"/><feFuncG type="table" tableValues="0.251 0.365 0.439 0.506 0.576 0.651 0.722 0.780 0.816 0.851 0.882 0.910 0.929 0.953 0.969 0.988"/><feFuncB type="table" tableValues="0.506 0.639 0.702 0.733 0.773 0.812 0.827 0.800 0.761 0.725 0.733 0.761 0.804 0.859 0.898 0.941"/><feFuncA type="linear" slope="0" intercept="1"/></feComponentTransfer></filter>
<filter id="sp4_51" x="-10%" y="-10%" width="120%" height="120%" color-interpolation-filters="sRGB"><feTurbulence type="fractalNoise" baseFrequency="0.5 0.3" numOctaves="2" seed="9" result="n"/><feColorMatrix in="n" type="matrix" values="0 0 0 0 1  0 0 0 0 1  0 0 0 0 1  14 0 0 0 -8.40" result="sp"/><feGaussianBlur in="SourceAlpha" stdDeviation="3" result="sa"/><feComposite in="sp" in2="sa" operator="in"/></filter>
<filter id="fR5" x="-20%" y="-10%" width="140%" height="120%" color-interpolation-filters="sRGB"><feGaussianBlur in="SourceGraphic" stdDeviation="0.80" result="b"/><feTurbulence type="fractalNoise" baseFrequency="0.060" numOctaves="3" seed="16" result="n"/><feDisplacementMap in="b" in2="n" scale="10.0" xChannelSelector="R" yChannelSelector="G" result="d"/><feColorMatrix in="n" type="matrix" values="0 0 1 0 0  0 0 1 0 0  0 0 1 0 0  0 0 0 0 1" result="ng"/><feComposite in="d" in2="ng" operator="arithmetic" k1="0" k2="1" k3="0.060" k4="-0.030" result="dn"/><feComponentTransfer in="dn"><feFuncR type="table" tableValues="0.031 0.039 0.063 0.125 0.196 0.271 0.357 0.447 0.533 0.627 0.702 0.769 0.827 0.878 0.922 0.969"/><feFuncG type="table" tableValues="0.251 0.365 0.439 0.506 0.576 0.651 0.722 0.780 0.816 0.851 0.882 0.910 0.929 0.953 0.969 0.988"/><feFuncB type="table" tableValues="0.506 0.639 0.702 0.733 0.773 0.812 0.827 0.800 0.761 0.725 0.733 0.761 0.804 0.859 0.898 0.941"/><feFuncA type="linear" slope="0" intercept="1"/></feComponentTransfer></filter>
<filter id="fR6" x="-20%" y="-10%" width="140%" height="120%" color-interpolation-filters="sRGB"><feGaussianBlur in="SourceGraphic" stdDeviation="0.80" result="b"/><feTurbulence type="fractalNoise" baseFrequency="0.060" numOctaves="3" seed="17" result="n"/><feDisplacementMap in="b" in2="n" scale="10.0" xChannelSelector="R" yChannelSelector="G" result="d"/><feColorMatrix in="n" type="matrix" values="0 0 1 0 0  0 0 1 0 0  0 0 1 0 0  0 0 0 0 1" result="ng"/><feComposite in="d" in2="ng" operator="arithmetic" k1="0" k2="1" k3="0.060" k4="-0.030" result="dn"/><feComponentTransfer in="dn"><feFuncR type="table" tableValues="0.031 0.039 0.063 0.125 0.196 0.271 0.357 0.447 0.533 0.627 0.702 0.769 0.827 0.878 0.922 0.969"/><feFuncG type="table" tableValues="0.251 0.365 0.439 0.506 0.576 0.651 0.722 0.780 0.816 0.851 0.882 0.910 0.929 0.953 0.969 0.988"/><feFuncB type="table" tableValues="0.506 0.639 0.702 0.733 0.773 0.812 0.827 0.800 0.761 0.725 0.733 0.761 0.804 0.859 0.898 0.941"/><feFuncA type="linear" slope="0" intercept="1"/></feComponentTransfer></filter>
<filter id="fR7" x="-20%" y="-10%" width="140%" height="120%" color-interpolation-filters="sRGB"><feGaussianBlur in="SourceGraphic" stdDeviation="0.80" result="b"/><feTurbulence type="fractalNoise" baseFrequency="0.060" numOctaves="3" seed="18" result="n"/><feDisplacementMap in="b" in2="n" scale="10.0" xChannelSelector="R" yChannelSelector="G" result="d"/><feColorMatrix in="n" type="matrix" values="0 0 1 0 0  0 0 1 0 0  0 0 1 0 0  0 0 0 0 1" result="ng"/><feComposite in="d" in2="ng" operator="arithmetic" k1="0" k2="1" k3="0.120" k4="-0.060" result="dn"/><feComponentTransfer in="dn"><feFuncR type="table" tableValues="0.031 0.039 0.063 0.125 0.196 0.271 0.357 0.447 0.533 0.627 0.702 0.769 0.827 0.878 0.922 0.969"/><feFuncG type="table" tableValues="0.251 0.365 0.439 0.506 0.576 0.651 0.722 0.780 0.816 0.851 0.882 0.910 0.929 0.953 0.969 0.988"/><feFuncB type="table" tableValues="0.506 0.639 0.702 0.733 0.773 0.812 0.827 0.800 0.761 0.725 0.733 0.761 0.804 0.859 0.898 0.941"/><feFuncA type="linear" slope="0" intercept="1"/></feComponentTransfer></filter>
<filter id="fR8" x="-20%" y="-10%" width="140%" height="120%" color-interpolation-filters="sRGB"><feGaussianBlur in="SourceGraphic" stdDeviation="0.80" result="b"/><feTurbulence type="fractalNoise" baseFrequency="0.060" numOctaves="3" seed="19" result="n"/><feDisplacementMap in="b" in2="n" scale="10.0" xChannelSelector="R" yChannelSelector="G" result="d"/><feColorMatrix in="n" type="matrix" values="0 0 1 0 0  0 0 1 0 0  0 0 1 0 0  0 0 0 0 1" result="ng"/><feComposite in="d" in2="ng" operator="arithmetic" k1="0" k2="1" k3="0.070" k4="-0.035" result="dn"/><feComponentTransfer in="dn"><feFuncR type="table" tableValues="0.031 0.039 0.063 0.125 0.196 0.271 0.357 0.447 0.533 0.627 0.702 0.769 0.827 0.878 0.922 0.969"/><feFuncG type="table" tableValues="0.251 0.365 0.439 0.506 0.576 0.651 0.722 0.780 0.816 0.851 0.882 0.910 0.929 0.953 0.969 0.988"/><feFuncB type="table" tableValues="0.506 0.639 0.702 0.733 0.773 0.812 0.827 0.800 0.761 0.725 0.733 0.761 0.804 0.859 0.898 0.941"/><feFuncA type="linear" slope="0" intercept="1"/></feComponentTransfer></filter>
<filter id="fR9" x="-20%" y="-10%" width="140%" height="120%" color-interpolation-filters="sRGB"><feGaussianBlur in="SourceGraphic" stdDeviation="0.80" result="b"/><feTurbulence type="fractalNoise" baseFrequency="0.060" numOctaves="3" seed="20" result="n"/><feDisplacementMap in="b" in2="n" scale="10.0" xChannelSelector="R" yChannelSelector="G" result="d"/><feColorMatrix in="n" type="matrix" values="0 0 1 0 0  0 0 1 0 0  0 0 1 0 0  0 0 0 0 1" result="ng"/><feComposite in="d" in2="ng" operator="arithmetic" k1="0" k2="1" k3="0.050" k4="-0.025" result="dn"/><feComponentTransfer in="dn"><feFuncR type="table" tableValues="0.031 0.039 0.063 0.125 0.196 0.271 0.357 0.447 0.533 0.627 0.702 0.769 0.827 0.878 0.922 0.969"/><feFuncG type="table" tableValues="0.251 0.365 0.439 0.506 0.576 0.651 0.722 0.780 0.816 0.851 0.882 0.910 0.929 0.953 0.969 0.988"/><feFuncB type="table" tableValues="0.506 0.639 0.702 0.733 0.773 0.812 0.827 0.800 0.761 0.725 0.733 0.761 0.804 0.859 0.898 0.941"/><feFuncA type="linear" slope="0" intercept="1"/></feComponentTransfer></filter>
<filter id="fR10" x="-20%" y="-10%" width="140%" height="120%" color-interpolation-filters="sRGB"><feGaussianBlur in="SourceGraphic" stdDeviation="0.80" result="b"/><feTurbulence type="fractalNoise" baseFrequency="0.060" numOctaves="3" seed="21" result="n"/><feDisplacementMap in="b" in2="n" scale="10.0" xChannelSelector="R" yChannelSelector="G" result="d"/><feColorMatrix in="n" type="matrix" values="0 0 1 0 0  0 0 1 0 0  0 0 1 0 0  0 0 0 0 1" result="ng"/><feComposite in="d" in2="ng" operator="arithmetic" k1="0" k2="1" k3="0.070" k4="-0.035" result="dn"/><feComponentTransfer in="dn"><feFuncR type="table" tableValues="0.031 0.039 0.063 0.125 0.196 0.271 0.357 0.447 0.533 0.627 0.702 0.769 0.827 0.878 0.922 0.969"/><feFuncG type="table" tableValues="0.251 0.365 0.439 0.506 0.576 0.651 0.722 0.780 0.816 0.851 0.882 0.910 0.929 0.953 0.969 0.988"/><feFuncB type="table" tableValues="0.506 0.639 0.702 0.733 0.773 0.812 0.827 0.800 0.761 0.725 0.733 0.761 0.804 0.859 0.898 0.941"/><feFuncA type="linear" slope="0" intercept="1"/></feComponentTransfer></filter>
<filter id="sp10_58" x="-10%" y="-10%" width="120%" height="120%" color-interpolation-filters="sRGB"><feTurbulence type="fractalNoise" baseFrequency="0.4 0.4" numOctaves="2" seed="15" result="n"/><feColorMatrix in="n" type="matrix" values="0 0 0 0 1  0 0 0 0 1  0 0 0 0 1  14 0 0 0 -6.58" result="sp"/><feGaussianBlur in="SourceAlpha" stdDeviation="3" result="sa"/><feComposite in="sp" in2="sa" operator="in"/></filter>
<filter id="fR11" x="-20%" y="-10%" width="140%" height="120%" color-interpolation-filters="sRGB"><feGaussianBlur in="SourceGraphic" stdDeviation="0.80" result="b"/><feTurbulence type="fractalNoise" baseFrequency="0.060" numOctaves="3" seed="22" result="n"/><feDisplacementMap in="b" in2="n" scale="10.0" xChannelSelector="R" yChannelSelector="G" result="d"/><feColorMatrix in="n" type="matrix" values="0 0 1 0 0  0 0 1 0 0  0 0 1 0 0  0 0 0 0 1" result="ng"/><feComposite in="d" in2="ng" operator="arithmetic" k1="0" k2="1" k3="0.080" k4="-0.040" result="dn"/><feComponentTransfer in="dn"><feFuncR type="table" tableValues="0.031 0.039 0.063 0.125 0.196 0.271 0.357 0.447 0.533 0.627 0.702 0.769 0.827 0.878 0.922 0.969"/><feFuncG type="table" tableValues="0.251 0.365 0.439 0.506 0.576 0.651 0.722 0.780 0.816 0.851 0.882 0.910 0.929 0.953 0.969 0.988"/><feFuncB type="table" tableValues="0.506 0.639 0.702 0.733 0.773 0.812 0.827 0.800 0.761 0.725 0.733 0.761 0.804 0.859 0.898 0.941"/><feFuncA type="linear" slope="0" intercept="1"/></feComponentTransfer></filter>
<filter id="fR12" x="-20%" y="-10%" width="140%" height="120%" color-interpolation-filters="sRGB"><feGaussianBlur in="SourceGraphic" stdDeviation="0.80" result="b"/><feTurbulence type="fractalNoise" baseFrequency="0.060" numOctaves="3" seed="23" result="n"/><feDisplacementMap in="b" in2="n" scale="10.0" xChannelSelector="R" yChannelSelector="G" result="d"/><feColorMatrix in="n" type="matrix" values="0 0 1 0 0  0 0 1 0 0  0 0 1 0 0  0 0 0 0 1" result="ng"/><feComposite in="d" in2="ng" operator="arithmetic" k1="0" k2="1" k3="0.060" k4="-0.030" result="dn"/><feComponentTransfer in="dn"><feFuncR type="table" tableValues="0.031 0.039 0.063 0.125 0.196 0.271 0.357 0.447 0.533 0.627 0.702 0.769 0.827 0.878 0.922 0.969"/><feFuncG type="table" tableValues="0.251 0.365 0.439 0.506 0.576 0.651 0.722 0.780 0.816 0.851 0.882 0.910 0.929 0.953 0.969 0.988"/><feFuncB type="table" tableValues="0.506 0.639 0.702 0.733 0.773 0.812 0.827 0.800 0.761 0.725 0.733 0.761 0.804 0.859 0.898 0.941"/><feFuncA type="linear" slope="0" intercept="1"/></feComponentTransfer></filter>
<clipPath id="swR12"><polygon points="-2.1,64.2 182.5,19.1 188.7,61.9 188.7,213.8 -2.1,213.8" fill="#000"/></clipPath>
<filter id="sp12_62" x="-10%" y="-10%" width="120%" height="120%" color-interpolation-filters="sRGB"><feTurbulence type="fractalNoise" baseFrequency="0.5 0.25" numOctaves="2" seed="17" result="n"/><feColorMatrix in="n" type="matrix" values="0 0 0 0 1  0 0 0 0 1  0 0 0 0 1  14 0 0 0 -7.84" result="sp"/><feGaussianBlur in="SourceAlpha" stdDeviation="3" result="sa"/><feComposite in="sp" in2="sa" operator="in"/></filter>
<filter id="fR13" x="-20%" y="-10%" width="140%" height="120%" color-interpolation-filters="sRGB"><feGaussianBlur in="SourceGraphic" stdDeviation="0.80" result="b"/><feTurbulence type="fractalNoise" baseFrequency="0.060" numOctaves="3" seed="24" result="n"/><feDisplacementMap in="b" in2="n" scale="10.0" xChannelSelector="R" yChannelSelector="G" result="d"/><feColorMatrix in="n" type="matrix" values="0 0 1 0 0  0 0 1 0 0  0 0 1 0 0  0 0 0 0 1" result="ng"/><feComposite in="d" in2="ng" operator="arithmetic" k1="0" k2="1" k3="0.060" k4="-0.030" result="dn"/><feComponentTransfer in="dn"><feFuncR type="table" tableValues="0.031 0.039 0.063 0.125 0.196 0.271 0.357 0.447 0.533 0.627 0.702 0.769 0.827 0.878 0.922 0.969"/><feFuncG type="table" tableValues="0.251 0.365 0.439 0.506 0.576 0.651 0.722 0.780 0.816 0.851 0.882 0.910 0.929 0.953 0.969 0.988"/><feFuncB type="table" tableValues="0.506 0.639 0.702 0.733 0.773 0.812 0.827 0.800 0.761 0.725 0.733 0.761 0.804 0.859 0.898 0.941"/><feFuncA type="linear" slope="0" intercept="1"/></feComponentTransfer></filter>
<clipPath id="swR13"><polygon points="-3.2,56.9 187.6,9.9 187.6,213.8 -3.2,213.8" fill="#000"/></clipPath>
<filter id="sp13_65" x="-10%" y="-10%" width="120%" height="120%" color-interpolation-filters="sRGB"><feTurbulence type="fractalNoise" baseFrequency="0.5 0.35" numOctaves="2" seed="18" result="n"/><feColorMatrix in="n" type="matrix" values="0 0 0 0 1  0 0 0 0 1  0 0 0 0 1  14 0 0 0 -6.86" result="sp"/><feGaussianBlur in="SourceAlpha" stdDeviation="3" result="sa"/><feComposite in="sp" in2="sa" operator="in"/></filter>
<filter id="fR14" x="-20%" y="-10%" width="140%" height="120%" color-interpolation-filters="sRGB"><feGaussianBlur in="SourceGraphic" stdDeviation="0.80" result="b"/><feTurbulence type="fractalNoise" baseFrequency="0.060" numOctaves="3" seed="25" result="n"/><feDisplacementMap in="b" in2="n" scale="10.0" xChannelSelector="R" yChannelSelector="G" result="d"/><feColorMatrix in="n" type="matrix" values="0 0 1 0 0  0 0 1 0 0  0 0 1 0 0  0 0 0 0 1" result="ng"/><feComposite in="d" in2="ng" operator="arithmetic" k1="0" k2="1" k3="0.060" k4="-0.030" result="dn"/><feComponentTransfer in="dn"><feFuncR type="table" tableValues="0.031 0.039 0.063 0.125 0.196 0.271 0.357 0.447 0.533 0.627 0.702 0.769 0.827 0.878 0.922 0.969"/><feFuncG type="table" tableValues="0.251 0.365 0.439 0.506 0.576 0.651 0.722 0.780 0.816 0.851 0.882 0.910 0.929 0.953 0.969 0.988"/><feFuncB type="table" tableValues="0.506 0.639 0.702 0.733 0.773 0.812 0.827 0.800 0.761 0.725 0.733 0.761 0.804 0.859 0.898 0.941"/><feFuncA type="linear" slope="0" intercept="1"/></feComponentTransfer></filter>
<clipPath id="swR14"><polygon points="-4.8,63.6 186.0,14.2 186.0,212.9 -4.8,212.9" fill="#000"/></clipPath>
<filter id="fR15" x="-20%" y="-10%" width="140%" height="120%" color-interpolation-filters="sRGB"><feGaussianBlur in="SourceGraphic" stdDeviation="0.80" result="b"/><feTurbulence type="fractalNoise" baseFrequency="0.060" numOctaves="3" seed="26" result="n"/><feDisplacementMap in="b" in2="n" scale="10.0" xChannelSelector="R" yChannelSelector="G" result="d"/><feColorMatrix in="n" type="matrix" values="0 0 1 0 0  0 0 1 0 0  0 0 1 0 0  0 0 0 0 1" result="ng"/><feComposite in="d" in2="ng" operator="arithmetic" k1="0" k2="1" k3="0.060" k4="-0.030" result="dn"/><feComponentTransfer in="dn"><feFuncR type="table" tableValues="0.031 0.039 0.063 0.125 0.196 0.271 0.357 0.447 0.533 0.627 0.702 0.769 0.827 0.878 0.922 0.969"/><feFuncG type="table" tableValues="0.251 0.365 0.439 0.506 0.576 0.651 0.722 0.780 0.816 0.851 0.882 0.910 0.929 0.953 0.969 0.988"/><feFuncB type="table" tableValues="0.506 0.639 0.702 0.733 0.773 0.812 0.827 0.800 0.761 0.725 0.733 0.761 0.804 0.859 0.898 0.941"/><feFuncA type="linear" slope="0" intercept="1"/></feComponentTransfer></filter>
<clipPath id="swR15"><polygon points="-2.7,33.7 136.9,1.7 188.1,-8.0 188.1,214.6 -2.7,214.6" fill="#000"/></clipPath>
<filter id="fR16" x="-20%" y="-10%" width="140%" height="120%" color-interpolation-filters="sRGB"><feGaussianBlur in="SourceGraphic" stdDeviation="0.80" result="b"/><feTurbulence type="fractalNoise" baseFrequency="0.060" numOctaves="3" seed="27" result="n"/><feDisplacementMap in="b" in2="n" scale="10.0" xChannelSelector="R" yChannelSelector="G" result="d"/><feColorMatrix in="n" type="matrix" values="0 0 1 0 0  0 0 1 0 0  0 0 1 0 0  0 0 0 0 1" result="ng"/><feComposite in="d" in2="ng" operator="arithmetic" k1="0" k2="1" k3="0.060" k4="-0.030" result="dn"/><feComponentTransfer in="dn"><feFuncR type="table" tableValues="0.031 0.039 0.063 0.125 0.196 0.271 0.357 0.447 0.533 0.627 0.702 0.769 0.827 0.878 0.922 0.969"/><feFuncG type="table" tableValues="0.251 0.365 0.439 0.506 0.576 0.651 0.722 0.780 0.816 0.851 0.882 0.910 0.929 0.953 0.969 0.988"/><feFuncB type="table" tableValues="0.506 0.639 0.702 0.733 0.773 0.812 0.827 0.800 0.761 0.725 0.733 0.761 0.804 0.859 0.898 0.941"/><feFuncA type="linear" slope="0" intercept="1"/></feComponentTransfer></filter>
<clipPath id="swR16"><polygon points="-3.5,36.2 150.2,0.5 187.3,-8.0 187.3,214.6 -3.5,214.6" fill="#000"/></clipPath>
<filter id="fR17" x="-20%" y="-10%" width="140%" height="120%" color-interpolation-filters="sRGB"><feGaussianBlur in="SourceGraphic" stdDeviation="0.80" result="b"/><feTurbulence type="fractalNoise" baseFrequency="0.060" numOctaves="3" seed="28" result="n"/><feDisplacementMap in="b" in2="n" scale="10.0" xChannelSelector="R" yChannelSelector="G" result="d"/><feColorMatrix in="n" type="matrix" values="0 0 1 0 0  0 0 1 0 0  0 0 1 0 0  0 0 0 0 1" result="ng"/><feComposite in="d" in2="ng" operator="arithmetic" k1="0" k2="1" k3="0.060" k4="-0.030" result="dn"/><feComponentTransfer in="dn"><feFuncR type="table" tableValues="0.031 0.039 0.063 0.125 0.196 0.271 0.357 0.447 0.533 0.627 0.702 0.769 0.827 0.878 0.922 0.969"/><feFuncG type="table" tableValues="0.251 0.365 0.439 0.506 0.576 0.651 0.722 0.780 0.816 0.851 0.882 0.910 0.929 0.953 0.969 0.988"/><feFuncB type="table" tableValues="0.506 0.639 0.702 0.733 0.773 0.812 0.827 0.800 0.761 0.725 0.733 0.761 0.804 0.859 0.898 0.941"/><feFuncA type="linear" slope="0" intercept="1"/></feComponentTransfer></filter>
<clipPath id="swR17"><polygon points="-3.9,48.0 93.3,24.2 186.9,1.7 186.9,214.1 -3.9,214.1" fill="#000"/></clipPath>
<filter id="sp17_74" x="-10%" y="-10%" width="120%" height="120%" color-interpolation-filters="sRGB"><feTurbulence type="fractalNoise" baseFrequency="0.25 0.25" numOctaves="2" seed="22" result="n"/><feColorMatrix in="n" type="matrix" values="0 0 0 0 1  0 0 0 0 1  0 0 0 0 1  14 0 0 0 -6.44" result="sp"/><feGaussianBlur in="SourceAlpha" stdDeviation="3" result="sa"/><feComposite in="sp" in2="sa" operator="in"/></filter></defs>
<rect x="13" y="11.8" width="1572.2" height="1260.2" fill="none" stroke="#5c5c5c" stroke-width="1.6"/>
<line x1="857.5" y1="12" x2="857.5" y2="1272" stroke="#5c5c5c" stroke-width="1.4"/>
<g transform="translate(85.1,65.5)"><g clip-path="url(#clipL)"><g clip-path="url(#swL0)"><g filter="url(#fL0)"><rect x="-60" y="-60" width="290" height="470" fill="#383838"/><polygon points="131.3,-1.7 171.1,-1.7 171.1,64.6 154.9,67.6 146.0,54.3 150.4,38.1 140.1,19.0" fill="#1d1d1d" filter="url(#gb3)"/><polygon points="137.2,72.0 171.1,66.1 171.1,119.1 151.9,116.2 134.2,107.3 131.3,85.2" fill="#505050" filter="url(#gb3)"/><polygon points="-1.3,-1.7 113.6,-1.7 122.5,16.0 119.5,30.7 134.2,51.4 138.7,72.0 129.8,89.7 126.9,107.3 122.5,125.0 112.1,138.3 106.3,151.5 78.3,151.5 78.3,92.6 -1.3,92.6" fill="#9f9f9f" filter="url(#gb3)"/><polygon points="34.1,14.5 51.8,14.5 59.1,23.4 48.8,26.3 37.0,20.4" fill="#b7b7b7" filter="url(#gb3)"/><polygon points="-1.3,-1.7 25.2,-1.7 19.4,11.6 7.6,23.4 -1.3,27.8" fill="#808080" filter="url(#gb3)"/><polygon points="45.9,107.3 81.2,104.4 84.2,116.2 51.8,122.1" fill="#404040" filter="url(#gb3)"/><polygon points="129.8,154.5 171.1,148.6 171.1,154.5 137.2,160.4" fill="#b7b7b7" filter="url(#gb3)"/></g></g><use href="#landL"/></g><path d="M6.5,329.5 l2.2,1.2 l2.6,-1.6 M8.2,328.2 l0.8,3.2 l-1.6,2.6 M9.4,331.6 l2,1.4" fill="none" stroke="#8a8a8a" stroke-width="0.7"/><rect x="0" y="0" width="169.2" height="345.3" fill="none" stroke="#a9a9a9" stroke-width="1"/><text x="6" y="18.5" font-size="17.5">A</text><text x="89.8" y="340.3" font-size="18.1" text-anchor="middle">February, 22nd, 2020</text></g>
<g transform="translate(265.2,65.5)"><g clip-path="url(#clipL)"><g clip-path="url(#swL1)"><g filter="url(#fL1)"><rect x="-60" y="-60" width="290" height="470" fill="#5b5b5b"/><polygon points="19.3,-1.7 115.0,-1.7 107.6,19.0 78.2,27.8 56.1,19.0 34.0,11.6" fill="#7c7c7c" filter="url(#gb3)"/><polygon points="131.2,-1.7 171.0,-1.7 151.8,51.4 143.0,33.7 134.1,16.0" fill="#282828" filter="url(#gb3)"/><polygon points="151.8,51.4 163.6,4.2 171.0,4.2 122.4,181.0 113.5,181.0 131.2,122.1 138.6,92.6" fill="#353535" filter="url(#gb3)"/><polygon points="-1.4,38.1 7.5,24.8 19.3,16.0 34.0,14.5 51.7,21.9 63.4,38.1 72.3,54.3 84.1,66.1 69.3,72.0 57.6,57.3 45.8,36.6 34.0,29.3 19.3,32.2 -1.4,48.4" fill="#acacac" filter="url(#gb2)"/><polygon points="-1.4,41.1 8.9,32.2 19.3,26.3 34.0,26.3 48.7,38.1 59.0,52.8 69.3,66.1 63.4,67.6 54.6,55.8 45.8,41.1 34.0,30.7 19.3,30.7 -1.4,45.5" fill="#cfcfcf" filter="url(#gb1_2)"/><polygon points="-1.4,-1.7 19.3,-1.7 19.3,16.0 -1.4,33.7" fill="#808080" filter="url(#gb3)"/><polygon points="84.1,66.1 107.6,63.1 116.5,72.0 92.9,76.4" fill="#8f8f8f" filter="url(#gb3)"/><polygon points="90.0,80.8 137.1,77.9 137.1,101.4 122.4,122.1 101.7,107.3 92.9,92.6" fill="#454545" filter="url(#gb3)"/><polygon points="91.4,92.6 84.1,104.4 72.3,111.7 51.7,116.2 47.2,122.1 53.1,125.0 72.3,116.2 87.0,107.3 95.8,98.5" fill="#0d0d0d" filter="url(#gb3)"/><polygon points="95.8,122.1 129.7,122.1 122.4,181.0 92.9,181.0" fill="#747474" filter="url(#gb3)"/><polygon points="57.6,151.5 69.3,153.0 76.7,166.2 69.3,166.2" fill="#181818" filter="url(#gb3)"/><polygon points="101.7,170.4 123.8,170.4 113.5,216.1 92.9,217.5 98.8,194.0" fill="#383838" filter="url(#gb3)"/><polygon points="69.3,164.5 98.8,164.5 92.9,217.5 72.3,208.7" fill="#707070" filter="url(#gb3)"/><polygon points="63.4,186.6 72.3,186.6 72.3,223.4 59.0,223.4 54.6,208.7" fill="#979797" filter="url(#gb3)"/><polygon points="59.0,223.4 78.2,220.5 98.8,229.3 98.8,247.0 78.2,251.4 63.4,244.0" fill="#dadada" filter="url(#gb3)"/><polygon points="6.0,244.0 23.7,241.1 26.6,255.8 16.3,264.7 3.1,267.6" fill="#dadada" filter="url(#gb3)"/><polygon points="4.5,258.8 57.6,251.4 57.6,285.3 4.5,275.0" fill="#707070" filter="url(#gb3)"/><polygon points="56.1,252.9 92.9,251.4 95.8,273.5 78.2,273.5 59.0,267.6" fill="#383838" filter="url(#gb3)"/><polygon points="72.3,273.5 101.7,272.0 97.3,295.6 72.3,289.7" fill="#d7d7d7" filter="url(#gb3)"/><polygon points="60.5,273.5 75.2,273.5 75.2,283.8 62.0,283.8" fill="#979797" filter="url(#gb3)"/></g><path d="M122.4,-1.7 171.0,-1.7 151.8,77.9 129.7,136.8 116.5,122.1 137.1,63.1Z" fill="#fff" filter="url(#spL1_0)"/></g><use href="#landL"/><g clip-path="url(#swL1)"><path d="M44.3,152.3 56.1,142.7 66.4,136.8 78.2,133.1 84.1,145.6 95.8,148.6 96.6,158.9 92.9,164.8 85.5,163.3 79.6,158.9 73.8,160.4 72.3,170.7 69.3,179.5 56.1,179.5 53.1,166.2Z M56.8,149.3 60.5,148.3 70.1,152.7 75.2,151.5 78.2,139.7 79.9,140.5 78.2,153.0 75.2,158.9 78.2,165.5 76.4,168.5 72.3,164.8 67.9,157.4 59.0,152.3Z" fill="#676767" fill-rule="evenodd"/></g></g><path d="M6.5,329.5 l2.2,1.2 l2.6,-1.6 M8.2,328.2 l0.8,3.2 l-1.6,2.6 M9.4,331.6 l2,1.4" fill="none" stroke="#8a8a8a" stroke-width="0.7"/><rect x="0" y="0" width="169.2" height="345.3" fill="none" stroke="#a9a9a9" stroke-width="1"/><text x="6" y="18.5" font-size="17.5">B</text><text x="90.2" y="340.3" font-size="18.1" text-anchor="middle">March, 5th, 2020</text></g>
<g transform="translate(444.8,65.5)"><g clip-path="url(#clipL)"><g clip-path="url(#swL2)"><g filter="url(#fL2)"><rect x="-60" y="-60" width="290" height="470" fill="#2e2e2e"/><polygon points="-2.0,-1.7 143.9,-1.7 151.2,41.1 140.9,55.8 139.4,92.6 133.5,122.1 121.8,136.8 98.2,139.7 77.6,92.6 -2.0,92.6" fill="#606060" filter="url(#gb3)"/><polygon points="101.1,107.3 130.6,85.2 130.6,122.1 110.0,136.8" fill="#787878" filter="url(#gb3)"/><polygon points="95.2,101.4 115.9,92.6 121.8,104.4 104.1,111.7" fill="#383838" filter="url(#gb3)"/><polygon points="-2.0,33.7 18.7,19.0 40.8,16.0 77.6,21.9 92.3,41.1 101.1,60.2 112.9,72.0 92.3,72.0 68.7,66.1 -2.0,66.1" fill="#a4a4a4" filter="url(#gb3)"/><polygon points="68.7,39.6 83.5,39.6 83.5,63.1 68.7,60.2" fill="#b4b4b4" filter="url(#gb3)"/><polygon points="101.1,8.6 115.9,7.2 118.8,21.9 104.1,24.8" fill="#9f9f9f" filter="url(#gb3)"/><polygon points="-2.0,38.1 11.3,29.3 11.3,38.1 -2.0,45.5" fill="#9f9f9f" filter="url(#gb3)"/><polygon points="-2.0,-1.7 33.4,-1.7 26.0,16.0 -2.0,27.8" fill="#484848" filter="url(#gb3)"/><polygon points="121.8,-1.7 151.2,-1.7 151.2,19.0 129.1,19.0" fill="#383838" filter="url(#gb3)"/><polygon points="48.1,110.3 80.5,107.3 80.5,116.2 48.1,122.1" fill="#282828" filter="url(#gb3)"/></g></g><use href="#landL"/></g><path d="M6.5,329.5 l2.2,1.2 l2.6,-1.6 M8.2,328.2 l0.8,3.2 l-1.6,2.6 M9.4,331.6 l2,1.4" fill="none" stroke="#8a8a8a" stroke-width="0.7"/><rect x="0" y="0" width="169.2" height="345.3" fill="none" stroke="#a9a9a9" stroke-width="1"/><text x="6" y="18.5" font-size="17.5">C</text><text x="85.2" y="340.3" font-size="18.1" text-anchor="middle">April, 7th, 2020</text></g>
<g transform="translate(623.8,65.5)"><g clip-path="url(#clipL)"><g clip-path="url(#swL3)"><g filter="url(#fL3)"><rect x="-60" y="-60" width="290" height="470" fill="#383838"/><polygon points="104.1,1.3 136.5,1.3 136.5,33.7 114.4,26.3" fill="#212121" filter="url(#gb3)"/><polygon points="129.1,48.4 151.2,45.5 143.9,77.9 129.1,72.0" fill="#212121" filter="url(#gb3)"/><polygon points="136.5,63.1 170.4,55.8 170.4,181.0 107.0,181.0 121.8,136.8 136.5,107.3" fill="#414141" filter="url(#gb3)"/><polygon points="158.6,107.3 170.4,98.5 170.4,151.5 121.8,181.0 136.5,151.5" fill="#5b5b5b" filter="url(#gb3)"/><polygon points="104.1,130.9 118.8,127.9 115.9,148.6 105.6,150.0" fill="#1d1d1d" filter="url(#gb3)"/><polygon points="-2.0,-1.7 71.7,-1.7 77.6,26.3 92.3,51.4 121.8,66.1 133.5,77.9 107.0,83.8 77.6,66.1 48.1,33.7 -2.0,33.7" fill="#606060" filter="url(#gb3)"/><polygon points="92.3,101.4 107.0,104.4 110.0,130.9 95.2,136.8" fill="#686868" filter="url(#gb3)"/><polygon points="71.7,1.3 89.4,1.3 86.4,8.6 74.6,8.6" fill="#9f9f9f" filter="url(#gb3)"/><polygon points="-2.0,38.1 8.3,26.3 23.1,17.5 36.3,19.0 51.1,32.2 62.8,45.5 71.7,58.7 71.7,69.0 59.9,60.2 48.1,45.5 33.4,32.2 18.7,32.2 -2.0,48.4" fill="#a7a7a7" filter="url(#gb3)"/><polygon points="-2.0,44.0 12.8,30.7 24.5,24.8 36.3,27.8 51.1,42.5 62.8,58.7 59.9,63.1 45.2,48.4 33.4,36.6 18.7,35.2 -2.0,51.4" fill="#e7e7e7" filter="url(#gb3)"/><polygon points="90.8,92.6 83.5,104.4 71.7,111.7 51.1,116.2 46.6,122.1 52.5,125.0 71.7,116.2 86.4,107.3 95.2,98.5" fill="#0d0d0d" filter="url(#gb3)"/><polygon points="55.5,148.6 71.7,153.0 65.8,160.4 54.0,155.9" fill="#151515" filter="url(#gb3)"/><polygon points="71.7,170.4 107.0,164.5 114.4,186.6 92.3,226.4 71.7,232.3 65.8,201.3" fill="#202020" filter="url(#gb3)"/><polygon points="92.3,232.3 121.8,208.7 170.4,186.6 170.4,291.2 92.3,276.4 77.6,255.8" fill="#5b5b5b" filter="url(#gb3)"/><polygon points="101.1,267.6 145.3,264.7 145.3,282.3 107.0,276.4" fill="#383838" filter="url(#gb3)"/><polygon points="110.0,223.4 130.6,219.0 130.6,226.4 110.0,230.8" fill="#787878" filter="url(#gb3)"/><polygon points="138.0,202.8 148.3,202.8 148.3,214.6 139.4,214.6" fill="#cfcfcf" filter="url(#gb3)"/><polygon points="65.8,238.1 77.6,236.7 77.6,244.0 65.8,245.5" fill="#bfbfbf" filter="url(#gb3)"/><polygon points="50.3,203.5 59.2,205.0 63.6,223.4 65.1,238.9 57.7,238.9 54.7,223.4" fill="#f7f7f7" filter="url(#gb1_2)"/><polygon points="45.2,241.1 59.9,241.1 58.4,255.8 48.1,255.8" fill="#707070" filter="url(#gb3)"/><polygon points="14.2,238.1 26.0,238.1 27.5,255.8 14.2,255.8" fill="#585858" filter="url(#gb3)"/></g></g><use href="#landL"/><g clip-path="url(#swL3)"><path d="M43.7,152.3 55.5,142.7 65.8,136.8 77.6,133.1 83.5,145.6 95.2,148.6 96.0,158.9 92.3,164.8 84.9,163.3 79.0,158.9 73.2,160.4 71.7,170.7 68.7,179.5 55.5,179.5 52.5,166.2Z M56.2,149.3 59.9,148.3 69.5,152.7 74.6,151.5 77.6,139.7 79.3,140.5 77.6,153.0 74.6,158.9 77.6,165.5 75.8,168.5 71.7,164.8 67.3,157.4 58.4,152.3Z" fill="#676767" fill-rule="evenodd"/></g></g><path d="M6.5,329.5 l2.2,1.2 l2.6,-1.6 M8.2,328.2 l0.8,3.2 l-1.6,2.6 M9.4,331.6 l2,1.4" fill="none" stroke="#8a8a8a" stroke-width="0.7"/><rect x="0" y="0" width="169.2" height="345.3" fill="none" stroke="#a9a9a9" stroke-width="1"/><text x="6" y="18.5" font-size="17.5">D</text><text x="84.5" y="340.3" font-size="18.1" text-anchor="middle">July, 22nd, 2020</text></g>
<g transform="translate(85.1,422.6)"><g clip-path="url(#clipL)"><g clip-path="url(#swL4)"><g filter="url(#fL4)"><rect x="-60" y="-60" width="290" height="470" fill="#747474"/><polygon points="29.7,-1.8 98.9,-1.8 107.7,18.9 125.4,27.7 140.1,51.3 141.6,71.9 128.3,83.7 107.7,77.8 93.0,71.9 72.4,66.0 48.8,33.6 26.7,26.2" fill="#ababab" filter="url(#gb3)"/><polygon points="40.0,7.1 69.4,1.2 78.3,18.9 66.5,27.7 78.3,45.4 84.2,60.1 69.4,60.1 54.7,45.4 42.9,27.7" fill="#c7c7c7" filter="url(#gb2)"/><polygon points="60.6,39.5 69.4,48.3 73.9,55.7 66.5,55.7 59.1,45.4" fill="#d7d7d7" filter="url(#gb1_5)"/><polygon points="78.3,11.5 107.7,8.5 116.6,18.9 93.0,26.2 72.4,32.1 57.7,29.2" fill="#585858" filter="url(#gb2)"/><polygon points="93.0,24.7 122.5,24.7 143.1,36.5 137.2,41.0 119.5,33.6 95.9,33.6" fill="#bfbfbf" filter="url(#gb2)"/><polygon points="24.5,24.7 38.5,24.0 48.8,33.6 45.9,36.5 34.1,30.6 23.8,30.6" fill="#e7e7e7" filter="url(#gb1_2)"/><polygon points="112.1,98.4 138.7,98.4 137.2,107.2 125.4,116.1 116.6,110.2" fill="#0d0d0d" filter="url(#gb1_5)"/><polygon points="106.3,119.0 115.1,117.5 116.6,136.7 106.3,133.7" fill="#0d0d0d" filter="url(#gb1_5)"/><polygon points="93.0,101.3 110.7,107.2 107.7,122.0 95.9,124.9" fill="#979797" filter="url(#gb2)"/><polygon points="91.5,92.5 84.2,104.3 72.4,111.6 51.8,116.1 47.3,122.0 53.2,124.9 72.4,116.1 87.1,107.2 95.9,98.4" fill="#303030" filter="url(#gb1_2)"/><polygon points="50.3,201.2 59.1,202.7 63.5,223.3 66.5,238.0 60.6,238.0 56.2,223.3" fill="#dfdfdf" filter="url(#gb1_3)"/><polygon points="69.4,207.1 81.2,207.1 78.3,223.3 69.4,223.3" fill="#202020" filter="url(#gb1_5)"/><polygon points="81.2,164.4 93.0,164.4 91.5,182.1 84.2,182.1" fill="#202020" filter="url(#gb1_5)"/><polygon points="122.5,179.1 171.1,164.4 171.1,238.0 137.2,294.0 115.1,282.2 137.2,223.3" fill="#7b7b7b" filter="url(#gb6)"/></g></g><use href="#landL"/><g clip-path="url(#swL4)"><path d="M44.4,152.2 56.2,142.6 66.5,136.7 78.3,133.0 84.2,145.5 95.9,148.5 96.7,158.8 93.0,164.7 85.6,163.2 79.7,158.8 73.9,160.3 72.4,170.6 69.4,179.4 56.2,179.4 53.2,166.1Z M56.9,149.2 60.6,148.2 70.2,152.6 75.3,151.4 78.3,139.6 80.0,140.4 78.3,152.9 75.3,158.8 78.3,165.4 76.5,168.4 72.4,164.7 68.0,157.3 59.1,152.2Z" fill="#676767" fill-rule="evenodd"/></g></g><path d="M6.5,329.5 l2.2,1.2 l2.6,-1.6 M8.2,328.2 l0.8,3.2 l-1.6,2.6 M9.4,331.6 l2,1.4" fill="none" stroke="#8a8a8a" stroke-width="0.7"/><rect x="0" y="0" width="169.2" height="345.3" fill="none" stroke="#a9a9a9" stroke-width="1"/><text x="6" y="18.5" font-size="17.5">E</text><text x="88.2" y="340.3" font-size="18.1" text-anchor="middle">August, 20th, 2020</text></g>
<g transform="translate(265.2,422.6)"><g clip-path="url(#clipL)"><g clip-path="url(#swL5)"><g filter="url(#fL5)"><rect x="-60" y="-60" width="290" height="470" fill="#181818"/><polygon points="122.4,-1.8 156.2,-1.8 163.6,26.2 166.5,51.3 145.9,63.0 148.9,92.5 151.8,116.1 129.7,136.7 122.4,180.9 78.2,180.9 78.2,-1.8" fill="#313131" filter="url(#gb4)"/><polygon points="4.5,-1.8 137.1,-1.8 148.9,18.9 145.9,38.0 143.0,60.1 141.5,77.8 134.1,101.3 131.2,122.0 119.4,145.5 107.6,166.1 98.8,180.9 34.0,180.9 34.0,92.5 4.5,92.5" fill="#787878" filter="url(#gb4)"/><polygon points="4.5,-1.8 122.4,-1.8 134.1,26.2 141.5,48.3 140.0,77.8 122.4,85.1 110.6,77.8 101.7,92.5 101.7,116.1 92.9,136.7 78.2,136.7 78.2,77.8 4.5,77.8" fill="#a7a7a7" filter="url(#gb3)"/><polygon points="4.5,-1.8 92.9,-1.8 85.5,15.9 78.2,33.6 78.2,57.2 63.4,55.7 4.5,55.7" fill="#bababa" filter="url(#gb3)"/><polygon points="38.4,15.9 56.1,14.4 69.3,21.8 63.4,29.2 48.7,24.7" fill="#cacaca" filter="url(#gb2)"/><polygon points="91.4,92.5 84.1,104.3 72.3,111.6 51.7,116.1 47.2,122.0 53.1,124.9 72.3,116.1 87.0,107.2 95.8,98.4" fill="#282828" filter="url(#gb1_2)"/><polygon points="45.8,148.5 72.3,145.5 78.2,166.1 72.3,180.9 63.4,163.2" fill="#878787" filter="url(#gb1_5)"/><polygon points="34.0,155.6 72.3,155.6 119.4,164.4 101.7,208.6 92.9,238.0 63.4,241.0 34.0,241.0" fill="#313131" filter="url(#gb4)"/><polygon points="34.0,155.6 63.4,155.6 98.8,164.4 92.9,193.9 90.0,223.3 78.2,238.0 63.4,241.0 34.0,241.0" fill="#707070" filter="url(#gb3_5)"/><polygon points="50.2,199.0 59.0,199.7 63.4,208.6 66.4,238.0 60.5,238.0 56.1,223.3" fill="#bfbfbf" filter="url(#gb1_3)"/></g></g><use href="#landL"/></g><path d="M6.5,329.5 l2.2,1.2 l2.6,-1.6 M8.2,328.2 l0.8,3.2 l-1.6,2.6 M9.4,331.6 l2,1.4" fill="none" stroke="#8a8a8a" stroke-width="0.7"/><rect x="0" y="0" width="169.2" height="345.3" fill="none" stroke="#a9a9a9" stroke-width="1"/><text x="6" y="18.5" font-size="17.5">F</text><text x="86.9" y="340.3" font-size="18.1" text-anchor="middle">January, 2nd, 2021</text></g>
<g transform="translate(444.8,422.6)"><g clip-path="url(#clipL)"><g clip-path="url(#swL6)"><g filter="url(#fL6)"><rect x="-60" y="-60" width="290" height="470" fill="#080808"/><polygon points="121.8,-1.8 158.6,-1.8 165.9,33.6 148.3,48.3 142.4,77.8 136.5,107.2 121.8,136.7 114.4,180.9 77.6,180.9 77.6,-1.8" fill="#313131" filter="url(#gb4)"/><polygon points="3.9,-1.8 136.5,-1.8 151.2,33.6 142.4,60.1 140.9,77.8 126.2,101.3 121.8,122.0 115.9,145.5 104.1,166.1 98.2,180.9 33.4,180.9 33.4,92.5 3.9,92.5" fill="#606060" filter="url(#gb3)"/><polygon points="-2.0,-1.8 121.8,-1.8 136.5,26.2 140.9,48.3 140.9,77.8 121.8,92.5 121.8,116.1 107.0,136.7 92.3,136.7 77.6,77.8 -2.0,77.8" fill="#9f9f9f" filter="url(#gb3)"/><polygon points="-2.0,-1.8 99.7,-1.8 92.3,15.9 121.8,45.4 107.0,63.0 77.6,63.0 62.8,55.7 -2.0,55.7" fill="#c1c1c1" filter="url(#gb3)"/><polygon points="48.1,11.5 65.8,15.9 74.6,24.7 62.8,27.7 51.1,18.9" fill="#d1d1d1" filter="url(#gb1_5)"/><polygon points="42.2,2.7 71.7,4.1 62.8,11.5 45.2,18.9" fill="#606060" filter="url(#gb1_5)"/><polygon points="92.3,7.1 107.0,4.1 107.0,18.9 95.2,21.8" fill="#606060" filter="url(#gb1_5)"/><polygon points="90.8,92.5 83.5,104.3 71.7,111.6 51.1,116.1 46.6,122.0 52.5,124.9 71.7,116.1 86.4,107.2 95.2,98.4" fill="#484848" filter="url(#gb1_2)"/><polygon points="33.4,155.6 71.7,155.6 115.9,164.4 98.2,208.6 83.5,235.1 62.8,255.7 48.1,282.2 27.5,311.7 -2.0,311.7 -2.0,241.0 48.1,241.0" fill="#313131" filter="url(#gb4)"/><polygon points="33.4,155.6 62.8,155.6 98.2,164.4 92.3,193.9 80.5,226.3 65.8,241.0 51.1,267.5 27.5,297.0 -2.0,304.3 -2.0,241.0 48.1,241.0" fill="#545454" filter="url(#gb3_5)"/><polygon points="49.6,199.0 58.4,199.7 62.8,208.6 65.8,238.0 59.9,238.0 55.5,223.3" fill="#c7c7c7" filter="url(#gb1_3)"/><polygon points="33.4,311.7 54.0,294.0 83.5,291.1 121.8,276.3 127.6,285.2 101.1,311.7 92.3,326.4 62.8,326.4" fill="#282828" filter="url(#gb4)"/></g><path d="M30.4,314.6 51.1,294.0 71.7,282.2 110.0,264.6 130.6,276.3 130.6,294.0 138.0,299.9 135.0,329.4 121.8,341.1 92.3,335.3 62.8,327.9Z" fill="#fff" filter="url(#spL6_0)"/><path d="M59.9,267.5 83.5,258.7 121.8,241.0 124.7,255.7 92.3,273.4 65.8,279.3Z" fill="#fff" filter="url(#spL6_1)"/></g><use href="#landL"/><g clip-path="url(#swL6)"><path d="M43.7,152.2 55.5,142.6 65.8,136.7 77.6,133.0 83.5,145.5 95.2,148.5 96.0,158.8 92.3,164.7 84.9,163.2 79.0,158.8 73.2,160.3 71.7,170.6 68.7,179.4 55.5,179.4 52.5,166.1Z M56.2,149.2 59.9,148.2 69.5,152.6 74.6,151.4 77.6,139.6 79.3,140.4 77.6,152.9 74.6,158.8 77.6,165.4 75.8,168.4 71.7,164.7 67.3,157.3 58.4,152.2Z" fill="#676767" fill-rule="evenodd"/></g></g><path d="M6.5,329.5 l2.2,1.2 l2.6,-1.6 M8.2,328.2 l0.8,3.2 l-1.6,2.6 M9.4,331.6 l2,1.4" fill="none" stroke="#8a8a8a" stroke-width="0.7"/><rect x="0" y="0" width="169.2" height="345.3" fill="none" stroke="#a9a9a9" stroke-width="1"/><text x="6" y="18.5" font-size="17.5">G</text><text x="86.1" y="340.3" font-size="18.1" text-anchor="middle">January, 15th, 2021</text></g>
<g transform="translate(623.8,422.6)"><g clip-path="url(#clipL)"><g clip-path="url(#swL7)"><g filter="url(#fL7)"><rect x="-60" y="-60" width="290" height="470" fill="#080808"/><polygon points="121.8,-1.8 170.4,-1.8 170.4,92.5 155.6,107.2 145.3,136.7 129.1,158.8 114.4,180.9 77.6,180.9 77.6,-1.8" fill="#313131" filter="url(#gb5)"/><polygon points="3.9,-1.8 155.6,-1.8 158.6,48.3 145.3,77.8 133.5,101.3 126.2,122.0 115.9,145.5 104.1,166.1 98.2,180.9 33.4,180.9 33.4,92.5 3.9,92.5" fill="#5b5b5b" filter="url(#gb3_5)"/><polygon points="-2.0,-1.8 139.4,-1.8 148.3,26.2 143.9,48.3 136.5,77.8 121.8,85.1 107.0,83.7 77.6,77.8 -2.0,77.8" fill="#a7a7a7" filter="url(#gb3)"/><polygon points="-2.0,-1.8 114.4,-1.8 121.8,18.9 92.3,18.9 71.7,27.7 68.7,39.5 83.5,51.3 80.5,63.0 62.8,55.7 -2.0,55.7" fill="#bebebe" filter="url(#gb2_5)"/><polygon points="90.8,92.5 83.5,104.3 71.7,111.6 51.1,116.1 46.6,122.0 52.5,124.9 71.7,116.1 86.4,107.2 95.2,98.4" fill="#151515" filter="url(#gb1_2)"/><polygon points="33.4,155.6 71.7,155.6 121.8,164.4 107.0,193.9 92.3,223.3 71.7,252.8 48.1,282.2 33.4,304.3 -2.0,304.3 -2.0,241.0 48.1,241.0" fill="#313131" filter="url(#gb4)"/><polygon points="33.4,155.6 62.8,155.6 98.2,164.4 92.3,193.9 77.6,226.3 65.8,241.0 51.1,267.5 27.5,294.0 -2.0,299.9 -2.0,241.0 48.1,241.0" fill="#545454" filter="url(#gb3_5)"/><polygon points="49.6,199.0 58.4,199.7 62.8,208.6 65.8,238.0 59.9,238.0 55.5,223.3" fill="#bfbfbf" filter="url(#gb1_3)"/><polygon points="-2.0,255.7 8.3,252.8 8.3,267.5 -2.0,285.2" fill="#b7b7b7" filter="url(#gb1_5)"/></g></g><use href="#landL"/><g clip-path="url(#swL7)"><path d="M43.7,152.2 55.5,142.6 65.8,136.7 77.6,133.0 83.5,145.5 95.2,148.5 96.0,158.8 92.3,164.7 84.9,163.2 79.0,158.8 73.2,160.3 71.7,170.6 68.7,179.4 55.5,179.4 52.5,166.1Z M56.2,149.2 59.9,148.2 69.5,152.6 74.6,151.4 77.6,139.6 79.3,140.4 77.6,152.9 74.6,158.8 77.6,165.4 75.8,168.4 71.7,164.7 67.3,157.3 58.4,152.2Z" fill="#676767" fill-rule="evenodd"/></g></g><path d="M6.5,329.5 l2.2,1.2 l2.6,-1.6 M8.2,328.2 l0.8,3.2 l-1.6,2.6 M9.4,331.6 l2,1.4" fill="none" stroke="#8a8a8a" stroke-width="0.7"/><rect x="0" y="0" width="169.2" height="345.3" fill="none" stroke="#a9a9a9" stroke-width="1"/><text x="6" y="18.5" font-size="17.5">H</text><text x="85.7" y="340.3" font-size="18.1" text-anchor="middle">November, 10th, 2021</text></g>
<g transform="translate(85.1,780.0)"><g clip-path="url(#clipL)"><g clip-path="url(#swL8)"><g filter="url(#fL8)"><rect x="-60" y="-60" width="290" height="470" fill="#4c4c4c"/><polygon points="137.2,-1.2 171.1,-1.2 171.1,34.2 151.9,63.6 143.1,34.2" fill="#313131" filter="url(#gb3)"/><polygon points="63.5,-1.2 122.5,-1.2 129.8,19.5 107.7,38.6 93.0,26.8 72.4,19.5" fill="#787878" filter="url(#gb3)"/><polygon points="75.3,46.0 143.1,34.2 146.0,66.6 134.2,93.1 107.7,96.0 84.2,78.4" fill="#787878" filter="url(#gb3)"/><polygon points="-1.3,-1.2 107.7,-1.2 93.0,12.1 72.4,19.5 78.3,46.0 90.1,63.6 98.9,72.5 78.3,72.5 63.5,56.3 -1.3,56.3" fill="#a7a7a7" filter="url(#gb2_5)"/><polygon points="-1.3,28.3 16.4,12.1 38.5,6.2 59.1,19.5 69.4,38.6 78.3,59.2 72.4,63.6 59.1,48.9 48.8,31.2 34.1,22.4 16.4,23.9 -1.3,38.6" fill="#cecece" filter="url(#gb2)"/><polygon points="26.7,13.6 41.5,12.1 53.2,22.4 59.1,34.2 51.8,32.7 41.5,20.9" fill="#dedede" filter="url(#gb1_5)"/><polygon points="93.0,28.3 122.5,25.3 146.0,38.6 137.2,43.0 119.5,34.2 95.9,37.1" fill="#afafaf" filter="url(#gb1_5)"/><polygon points="84.2,46.0 95.9,43.0 101.8,63.6 122.5,72.5 137.2,60.7 140.1,72.5 125.4,81.3 101.8,75.4 87.1,66.6" fill="#afafaf" filter="url(#gb1_5)"/><polygon points="101.8,84.3 122.5,84.3 128.3,101.9 119.5,101.9 107.7,93.1" fill="#a7a7a7" filter="url(#gb1_5)"/><polygon points="91.5,93.1 101.8,99.0 95.9,103.4 84.2,104.9 72.4,112.2 51.8,116.7 47.3,122.6 53.2,125.5 72.4,116.7 87.1,107.8" fill="#282828" filter="url(#gb1_2)"/><polygon points="101.8,93.1 122.5,104.9 122.5,122.6 107.7,116.7 98.9,101.9" fill="#353535" filter="url(#gb2)"/><polygon points="98.9,122.6 137.2,107.8 137.2,172.6 95.9,163.8" fill="#616161" filter="url(#gb3)"/><polygon points="54.7,141.7 72.4,146.1 69.4,153.5 56.2,149.1" fill="#979797" filter="url(#gb1_2)"/></g></g><use href="#landL"/></g><path d="M6.5,329.5 l2.2,1.2 l2.6,-1.6 M8.2,328.2 l0.8,3.2 l-1.6,2.6 M9.4,331.6 l2,1.4" fill="none" stroke="#8a8a8a" stroke-width="0.7"/><rect x="0" y="0" width="169.2" height="345.3" fill="none" stroke="#a9a9a9" stroke-width="1"/><text x="6" y="18.5" font-size="17.5">I</text><text x="89.2" y="340.3" font-size="18.1" text-anchor="middle">February, 25th, 2022</text></g>
<g transform="translate(265.2,780.0)"><g clip-path="url(#clipL)"><g clip-path="url(#swL9)"><g filter="url(#fL9)"><rect x="-60" y="-60" width="290" height="470" fill="#1d1d1d"/><polygon points="151.8,93.1 166.5,90.2 171.0,152.0 154.8,152.0 148.9,116.7" fill="#080808" filter="url(#gb3)"/><polygon points="131.2,163.8 145.9,156.4 143.0,180.0 131.2,180.0" fill="#080808" filter="url(#gb2)"/><polygon points="92.9,-1.2 151.8,-1.2 151.8,48.9 143.0,78.4 131.2,93.1 122.4,122.6 107.6,152.0 92.9,181.5 63.4,181.5 78.2,78.4" fill="#484848" filter="url(#gb3_5)"/><polygon points="92.9,-1.2 137.1,-1.2 143.0,34.2 137.1,78.4 122.4,93.1 107.6,122.6 101.7,152.0 92.9,152.0 78.2,78.4" fill="#787878" filter="url(#gb3)"/><polygon points="98.8,1.8 122.4,4.7 125.3,19.5 101.7,19.5" fill="#a7a7a7" filter="url(#gb2)"/><polygon points="90.0,28.3 122.4,25.3 143.0,38.6 137.1,46.0 119.4,34.2 95.8,37.1" fill="#b1b1b1" filter="url(#gb1_5)"/><polygon points="87.0,46.0 95.8,43.0 101.7,63.6 122.4,72.5 137.1,60.7 140.0,72.5 125.3,81.3 101.7,78.4 87.0,66.6" fill="#b1b1b1" filter="url(#gb1_5)"/><polygon points="95.8,84.3 116.5,84.3 122.4,96.0 107.6,96.0" fill="#a7a7a7" filter="url(#gb1_5)"/><polygon points="72.3,107.8 84.1,99.0 92.9,101.9 78.2,112.2" fill="#383838" filter="url(#gb1_2)"/><polygon points="66.4,165.0 92.9,165.0 90.0,194.5 72.3,223.9 51.7,256.3 39.9,259.3 60.5,223.9" fill="#585858" filter="url(#gb2_5)"/><polygon points="50.2,199.6 59.0,200.3 63.4,209.2 66.4,238.6 60.5,238.6 56.1,223.9" fill="#bfbfbf" filter="url(#gb1_3)"/><polygon points="78.2,231.3 116.5,221.0 137.1,187.1 156.2,179.7 159.2,201.8 151.8,226.9 171.0,229.8 171.0,328.5 78.2,304.9 72.3,282.8" fill="#3b3b3b" filter="url(#gb2_5)"/><polygon points="122.4,232.8 143.0,232.8 143.0,247.5 122.4,247.5" fill="#4b4b4b" filter="url(#gb4)"/><polygon points="140.0,253.4 145.9,253.4 144.5,282.8 137.1,312.3 134.1,312.3 137.1,282.8" fill="#808080" filter="url(#gb1_5)"/></g></g><use href="#landL"/></g><path d="M6.5,329.5 l2.2,1.2 l2.6,-1.6 M8.2,328.2 l0.8,3.2 l-1.6,2.6 M9.4,331.6 l2,1.4" fill="none" stroke="#8a8a8a" stroke-width="0.7"/><rect x="0" y="0" width="169.2" height="345.3" fill="none" stroke="#a9a9a9" stroke-width="1"/><text x="6" y="18.5" font-size="17.5">J</text><text x="84.0" y="340.3" font-size="18.1" text-anchor="middle">March, 9th, 2022</text></g>
<g transform="translate(444.8,780.0)"><g clip-path="url(#clipL)"><g clip-path="url(#swL10)"><g filter="url(#fL10)"><rect x="-60" y="-60" width="290" height="470" fill="#4c4c4c"/><polygon points="136.5,-1.2 170.4,-1.2 170.4,34.2 151.2,63.6 142.4,34.2" fill="#313131" filter="url(#gb3)"/><polygon points="62.8,-1.2 121.8,-1.2 129.1,19.5 107.0,38.6 92.3,26.8 71.7,19.5" fill="#787878" filter="url(#gb3)"/><polygon points="74.6,46.0 142.4,34.2 145.3,66.6 133.5,93.1 107.0,96.0 83.5,78.4" fill="#787878" filter="url(#gb3)"/><polygon points="-2.0,-1.2 107.0,-1.2 92.3,12.1 71.7,19.5 77.6,46.0 89.4,63.6 98.2,72.5 77.6,72.5 62.8,56.3 -2.0,56.3" fill="#a7a7a7" filter="url(#gb2_5)"/><polygon points="-2.0,28.3 15.7,12.1 37.8,6.2 58.4,19.5 68.7,38.6 77.6,59.2 71.7,63.6 58.4,48.9 48.1,31.2 33.4,22.4 15.7,23.9 -2.0,38.6" fill="#cecece" filter="url(#gb2)"/><polygon points="26.0,13.6 40.8,12.1 52.5,22.4 58.4,34.2 51.1,32.7 40.8,20.9" fill="#dedede" filter="url(#gb1_5)"/><polygon points="92.3,28.3 121.8,25.3 145.3,38.6 136.5,43.0 118.8,34.2 95.2,37.1" fill="#afafaf" filter="url(#gb1_5)"/><polygon points="83.5,46.0 95.2,43.0 101.1,63.6 121.8,72.5 136.5,60.7 139.4,72.5 124.7,81.3 101.1,75.4 86.4,66.6" fill="#afafaf" filter="url(#gb1_5)"/><polygon points="101.1,84.3 121.8,84.3 127.6,101.9 118.8,101.9 107.0,93.1" fill="#a7a7a7" filter="url(#gb1_5)"/><polygon points="90.8,93.1 101.1,99.0 95.2,103.4 83.5,104.9 71.7,112.2 51.1,116.7 46.6,122.6 52.5,125.5 71.7,116.7 86.4,107.8" fill="#282828" filter="url(#gb1_2)"/><polygon points="101.1,93.1 121.8,104.9 121.8,122.6 107.0,116.7 98.2,101.9" fill="#353535" filter="url(#gb2)"/><polygon points="98.2,122.6 136.5,107.8 136.5,172.6 95.2,163.8" fill="#616161" filter="url(#gb3)"/><polygon points="54.0,141.7 71.7,146.1 68.7,153.5 55.5,149.1" fill="#979797" filter="url(#gb1_2)"/></g></g><use href="#landL"/></g><path d="M6.5,329.5 l2.2,1.2 l2.6,-1.6 M8.2,328.2 l0.8,3.2 l-1.6,2.6 M9.4,331.6 l2,1.4" fill="none" stroke="#8a8a8a" stroke-width="0.7"/><rect x="0" y="0" width="169.2" height="345.3" fill="none" stroke="#a9a9a9" stroke-width="1"/><text x="6" y="18.5" font-size="17.5">K</text><text x="80.5" y="340.3" font-size="18.1" text-anchor="middle">May, 17th, 2022</text></g>
<g transform="translate(623.8,780.0)"><g clip-path="url(#clipL)"><use href="#landL"/><rect x="157.3" y="40.9" width="8.8" height="5.9" fill="none" stroke="#c0525c" stroke-width="0.8"/><rect x="81.1" y="218.3" width="11.4" height="15.1" fill="none" stroke="#c0525c" stroke-width="0.8"/><rect x="60.8" y="247.3" width="6.6" height="5.3" fill="none" stroke="#c0525c" stroke-width="0.8"/><rect x="18.1" y="272.8" width="8.8" height="5.9" fill="none" stroke="#c0525c" stroke-width="0.8"/><rect x="4.4" y="287.1" width="7.1" height="5.5" fill="none" stroke="#c0525c" stroke-width="0.8"/><rect x="19.9" y="310.3" width="5.6" height="6.2" fill="none" stroke="#c0525c" stroke-width="0.8"/><rect x="4.8" y="325.8" width="12.1" height="8.8" fill="none" stroke="#c0525c" stroke-width="0.8"/><rect x="130.8" y="71.9" width="5.8" height="8.0" fill="#8e2a33" opacity="0.85"/><rect x="79.7" y="155.2" width="4.6" height="5.7" fill="#8e2a33" opacity="0.85"/></g><path d="M6.5,329.5 l2.2,1.2 l2.6,-1.6 M8.2,328.2 l0.8,3.2 l-1.6,2.6 M9.4,331.6 l2,1.4" fill="none" stroke="#8a8a8a" stroke-width="0.7"/><rect x="0" y="0" width="169.2" height="345.3" fill="none" stroke="#a9a9a9" stroke-width="1"/><text x="6" y="18.5" font-size="17.5">L</text></g>
<text x="81.6" y="58.6" font-size="22">121°E</text>
<text x="166.6" y="58.6" font-size="22">122°E</text>
<text x="261.7" y="58.6" font-size="22">121°E</text>
<text x="346.7" y="58.6" font-size="22">122°E</text>
<text x="441.3" y="58.6" font-size="22">121°E</text>
<text x="526.3" y="58.6" font-size="22">122°E</text>
<text x="620.3" y="58.6" font-size="22">121°E</text>
<text x="705.3" y="58.6" font-size="22">122°E</text>
<text x="80" y="132.0" font-size="22" text-anchor="end">30°N</text>
<text x="80" y="238.0" font-size="22" text-anchor="end">29°N</text>
<text x="80" y="340.5" font-size="22" text-anchor="end">28°N</text>
<text x="80" y="489.1" font-size="22" text-anchor="end">30°N</text>
<text x="80" y="595.1" font-size="22" text-anchor="end">29°N</text>
<text x="80" y="697.6" font-size="22" text-anchor="end">28°N</text>
<text x="80" y="846.5" font-size="22" text-anchor="end">30°N</text>
<text x="80" y="952.5" font-size="22" text-anchor="end">29°N</text>
<text x="80" y="1055.0" font-size="22" text-anchor="end">28°N</text>
<rect x="89.20" y="1136.6" width="41.54" height="20.7" fill="#313695"/>
<rect x="130.34" y="1136.6" width="41.54" height="20.7" fill="#3f5fb0"/>
<rect x="171.49" y="1136.6" width="41.54" height="20.7" fill="#4d85c0"/>
<rect x="212.63" y="1136.6" width="41.54" height="20.7" fill="#6aa6d0"/>
<rect x="253.77" y="1136.6" width="41.54" height="20.7" fill="#8cc2df"/>
<rect x="294.92" y="1136.6" width="41.54" height="20.7" fill="#b0d9ec"/>
<rect x="336.06" y="1136.6" width="41.54" height="20.7" fill="#d6eef6"/>
<rect x="377.21" y="1136.6" width="41.54" height="20.7" fill="#eff8dc"/>
<rect x="418.35" y="1136.6" width="41.54" height="20.7" fill="#fef2b0"/>
<rect x="459.49" y="1136.6" width="41.54" height="20.7" fill="#fedc8a"/>
<rect x="500.64" y="1136.6" width="41.54" height="20.7" fill="#fdbf70"/>
<rect x="541.78" y="1136.6" width="41.54" height="20.7" fill="#fb9b59"/>
<rect x="582.92" y="1136.6" width="41.54" height="20.7" fill="#f4744a"/>
<rect x="624.07" y="1136.6" width="41.54" height="20.7" fill="#e34a33"/>
<rect x="665.21" y="1136.6" width="41.54" height="20.7" fill="#cc2328"/>
<rect x="706.36" y="1136.6" width="41.54" height="20.7" fill="#a50026"/>
<rect x="89.2" y="1136.6" width="658.3" height="20.7" fill="none" stroke="#444" stroke-width="0.8"/>
<text x="90.5" y="1181" font-size="22" text-anchor="middle">0</text>
<text x="254.0" y="1181" font-size="22" text-anchor="middle">250</text>
<text x="418.5" y="1181" font-size="22" text-anchor="middle">500</text>
<text x="582.5" y="1181" font-size="22" text-anchor="middle">750</text>
<text x="725.0" y="1181" font-size="22" text-anchor="middle">1000</text>
<text x="750" y="1155" font-size="22">mg/L</text>
<text x="35" y="1252" font-size="28.5" font-weight="bold">a.</text>
<text x="442.5" y="1252" font-size="27.5" font-weight="bold" text-anchor="middle">SSC</text>
<g transform="translate(933.5,66.1)"><g clip-path="url(#clipRT)"><g clip-path="url(#dataRT)"><g filter="url(#fR0)"><rect x="-60" y="-60" width="310" height="340" fill="#505050"/><polygon points="54.1,-3.1 79.2,-3.1 81.7,42.0 86.7,67.0 84.2,92.1 76.7,117.1 71.7,144.7 54.1,144.7" fill="#afafaf" filter="url(#gb5)"/><polygon points="79.2,-3.1 91.7,-3.1 94.2,42.0 91.7,79.6 86.7,104.6 79.2,129.7 71.7,129.7 81.7,67.0" fill="#878787" filter="url(#gb5)"/><polygon points="91.7,-3.1 116.7,-3.1 123.0,42.0 116.7,79.6 104.2,117.1 79.2,144.7 72.9,144.7 86.7,92.1 91.7,54.5" fill="#6b6b6b" filter="url(#gb6)"/><polygon points="154.3,-3.1 188.1,-3.1 188.1,144.7 166.8,144.7 173.1,79.6 166.8,29.5" fill="#383838" filter="url(#gb8)"/><polygon points="176.8,67.0 188.1,67.0 188.1,144.7 174.3,144.7" fill="#2b2b2b" filter="url(#gb5)"/></g></g><path d="M59.1,135.9 75.4,135.9 76.7,143.4 59.1,143.4Z" fill="#fff" fill-rule="evenodd" filter="url(#cl1)"/><use href="#landRT"/></g><rect x="0" y="0" width="184.4" height="141.6" fill="none" stroke="#a4a4a4" stroke-width="1"/><text x="4.5" y="15.3" font-size="17">A</text><path d="M165.5,15.7 L180.5,15.7 L173,4.4 Z" fill="#000"/><text x="180.4" y="137.3" font-size="18" text-anchor="end">August, 29th, 2022</text></g>
<g transform="translate(1131.1,66.1)"><g clip-path="url(#clipRT)"><g clip-path="url(#dataRT)"><g filter="url(#fR1)"><rect x="-60" y="-60" width="310" height="340" fill="#919191"/><polygon points="117.1,-3.1 188.5,-3.1 188.5,69.5 154.7,67.0 135.9,48.3 123.4,29.5" fill="#606060" filter="url(#gb5)"/><polygon points="103.4,22.0 115.9,22.0 123.4,34.5 125.9,59.5 112.1,67.0 102.1,64.5 108.4,44.5 100.9,32.0" fill="#252525" filter="url(#gb2_5)"/><polygon points="85.8,89.6 98.3,88.3 103.4,104.6 100.9,119.6 89.6,130.9 80.8,125.9 85.8,109.6" fill="#252525" filter="url(#gb2_5)"/><polygon points="94.6,33.2 107.1,33.2 109.6,62.0 99.6,69.5 92.1,54.5" fill="#686868" filter="url(#gb4)"/><polygon points="79.6,98.3 89.6,98.3 92.1,117.1 79.6,129.7 72.1,144.7 62.0,144.7" fill="#686868" filter="url(#gb4)"/><polygon points="148.4,4.4 173.5,16.9 177.2,29.5 167.2,62.0 154.7,48.3 142.2,23.2" fill="#404040" filter="url(#gb4)"/></g></g><path d="M123.4,33.2 129.7,42.0 132.2,52.0 142.2,57.0 154.7,62.0 164.7,67.0 173.5,69.5 188.5,67.0 188.5,144.7 85.8,144.7 89.6,129.7 99.6,117.1 102.1,104.6 97.1,92.1 95.8,84.6 104.6,69.5 117.1,63.3 123.4,59.5 122.1,48.3 117.1,39.5Z" fill="#fff" fill-rule="evenodd" filter="url(#cl1)"/><path d="M147.2,22.0 154.7,20.7 162.2,29.5 167.2,39.5 177.2,42.0 188.5,39.5 188.5,67.0 173.5,69.5 164.7,57.0 154.7,48.3 148.4,35.7Z" fill="#fff" fill-rule="evenodd" filter="url(#cl1)"/><path d="M158.5,-1.8 167.2,-1.8 169.7,4.4 164.7,9.4 159.7,4.4Z" fill="#fff" fill-rule="evenodd" filter="url(#cl1)"/><path d="M179.8,16.9 188.5,16.9 188.5,42.0 179.8,39.5Z" fill="#fff" fill-rule="evenodd" filter="url(#cl1)"/><use href="#landRT"/></g><rect x="0" y="0" width="184.4" height="141.6" fill="none" stroke="#a4a4a4" stroke-width="1"/><text x="4.5" y="15.3" font-size="17">B</text><path d="M165.5,15.7 L180.5,15.7 L173,4.4 Z" fill="#000"/><text x="180.4" y="137.3" font-size="18" text-anchor="end">October, 1st, 2022</text></g>
<g transform="translate(1329.5,66.1)"><g clip-path="url(#clipRT)"><g clip-path="url(#dataRT)"><g filter="url(#fR2)"><rect x="-60" y="-60" width="310" height="340" fill="#a7a7a7"/><polygon points="130.3,-3.1 189.1,-3.1 189.1,104.6 155.3,117.1 105.2,129.7 117.7,92.1" fill="#585858" filter="url(#gb6)"/><polygon points="105.2,129.7 189.1,92.1 189.1,144.7 92.7,144.7" fill="#808080" filter="url(#gb6)"/><polygon points="109.0,-3.1 130.3,-3.1 130.3,35.7 120.2,54.5 122.7,73.3 105.2,92.1 95.2,117.1 87.7,144.7 80.2,144.7 87.7,104.6 102.7,79.6 112.7,54.5 111.5,29.5" fill="#707070" filter="url(#gb4)"/><polygon points="117.7,-3.1 130.3,-3.1 130.3,34.5 117.7,34.5 115.2,16.9" fill="#303030" filter="url(#gb3)"/><polygon points="117.7,62.0 130.3,67.0 117.7,92.1 102.7,117.1 87.7,144.7 82.7,144.7 95.2,104.6 105.2,85.8" fill="#303030" filter="url(#gb3)"/></g></g><path d="M127.8,-3.1 152.8,-3.1 161.6,16.9 155.3,42.0 142.8,57.0 125.2,62.0 120.2,47.0 117.7,34.5 129.0,33.2 131.5,23.2 127.8,10.7Z" fill="#fff" fill-rule="evenodd" filter="url(#cl1)"/><path d="M122.7,62.0 155.3,42.0 161.6,-3.1 191.6,-3.1 191.6,145.9 105.2,145.9 97.7,117.1 110.2,79.6Z" fill="#fff" filter="url(#sp2_47)"/><path d="M95.2,124.6 117.7,112.1 117.7,129.7 112.7,144.7 90.2,144.7Z" fill="#fff" fill-rule="evenodd" filter="url(#cl1)"/><use href="#landRT"/></g><rect x="0" y="0" width="184.4" height="141.6" fill="none" stroke="#a4a4a4" stroke-width="1"/><text x="4.5" y="15.3" font-size="17">C</text><path d="M165.5,15.7 L180.5,15.7 L173,4.4 Z" fill="#000"/><text x="179.4" y="137.3" font-size="18" text-anchor="end">October, 10th, 2022</text></g>
<g transform="translate(933.5,222.1)"><g clip-path="url(#clipRT)"><g clip-path="url(#dataRT)"><g filter="url(#fR3)"><rect x="-60" y="-60" width="310" height="340" fill="#404040"/><polygon points="116.7,87.1 148.0,84.6 154.3,104.6 141.8,129.7 116.7,144.7 91.7,144.7 99.2,117.1" fill="#202020" filter="url(#gb5)"/><polygon points="79.2,-3.1 111.7,-3.1 104.2,29.5 94.2,48.3 91.7,79.6 89.2,104.6 81.7,129.7 71.7,144.7 59.1,144.7 59.1,-3.1" fill="#787878" filter="url(#gb5)"/><polygon points="54.1,-3.1 84.2,-3.1 84.2,29.5 91.7,54.5 86.7,79.6 84.2,117.1 79.2,129.7 54.1,144.7" fill="#b7b7b7" filter="url(#gb3_5)"/><polygon points="154.3,10.7 166.8,10.7 166.8,29.5 154.3,29.5" fill="#585858" filter="url(#gb6)"/></g></g><path d="M189.4,92.1 189.4,145.9 144.3,145.9 156.8,129.7 169.3,114.6 179.4,102.1Z" fill="#fff" fill-rule="evenodd" filter="url(#cl1)"/><path d="M189.4,62.0 189.4,117.1 129.3,145.9 146.8,114.6 166.8,87.1Z" fill="#fff" filter="url(#sp3_49)"/><use href="#landRT"/></g><rect x="0" y="0" width="184.4" height="141.6" fill="none" stroke="#a4a4a4" stroke-width="1"/><text x="4.5" y="15.3" font-size="17">D</text><text x="180.4" y="137.3" font-size="18" text-anchor="end">January, 6th, 2023</text></g>
<g transform="translate(1131.1,222.1)"><g clip-path="url(#clipRT)"><g clip-path="url(#dataRT)"><g filter="url(#fR4)"><rect x="-60" y="-60" width="310" height="340" fill="#3b3b3b"/><polygon points="123.4,54.5 154.7,48.3 161.0,92.1 154.7,129.7 117.1,135.9 114.6,92.1" fill="#212121" filter="url(#gb5)"/><polygon points="79.6,-3.1 120.9,-3.1 122.1,42.0 117.1,67.0 104.6,104.6 97.1,144.7 59.5,144.7 59.5,-3.1" fill="#787878" filter="url(#gb5)"/><polygon points="54.5,-3.1 117.1,-3.1 114.6,29.5 112.1,62.0 97.1,69.5 92.1,92.1 87.1,117.1 79.6,144.7 54.5,144.7" fill="#c7c7c7" filter="url(#gb4)"/><polygon points="102.1,23.2 109.6,23.2 109.6,48.3 102.1,48.3" fill="#878787" filter="url(#gb3)"/></g></g><path d="M123.4,-3.1 188.5,-3.1 188.5,144.7 129.7,144.7 135.9,79.6Z" fill="#fff" filter="url(#sp4_51)"/><path d="M59.5,133.4 62.0,133.4 62.0,143.4 59.5,143.4Z" fill="#fff" fill-rule="evenodd" filter="url(#cl1)"/><use href="#landRT"/></g><rect x="0" y="0" width="184.4" height="141.6" fill="none" stroke="#a4a4a4" stroke-width="1"/><text x="4.5" y="15.3" font-size="17">E</text><text x="178.9" y="137.3" font-size="18" text-anchor="end">January, 18th, 2023</text></g>
<g transform="translate(1330.5,222.1)"><g clip-path="url(#clipRT)"><g clip-path="url(#dataRT)"><g filter="url(#fR5)"><rect x="-60" y="-60" width="310" height="340" fill="#252525"/><polygon points="79.2,-3.1 119.2,-3.1 129.3,23.2 123.0,48.3 126.8,67.0 111.7,73.3 111.7,98.3 104.2,117.1 96.7,144.7 59.1,144.7 59.1,-3.1" fill="#686868" filter="url(#gb4)"/><polygon points="54.1,-3.1 81.7,-3.1 79.2,16.9 91.7,29.5 94.2,54.5 89.2,79.6 79.2,98.3 66.6,104.6 61.6,144.7 54.1,144.7" fill="#c7c7c7" filter="url(#gb4)"/></g></g><path d="M188.1,79.6 188.1,144.7 94.2,144.7 104.2,132.2 116.7,119.6 129.3,117.1 141.8,104.6 154.3,82.1 166.8,83.3 176.8,79.6Z" fill="#fff" fill-rule="evenodd" filter="url(#cl1)"/><path d="M136.8,-0.6 149.3,1.9 160.6,11.9 173.1,20.7 184.4,37.0 186.9,54.5 176.8,49.5 166.8,33.2 154.3,23.2 141.8,24.5 139.3,42.0 141.8,62.0 139.3,72.1 129.3,72.1 124.2,82.1 129.3,92.1 141.8,89.6 151.8,67.0 154.3,48.3 159.3,54.5 154.3,79.6 141.8,104.6 129.3,102.1 121.7,87.1 126.8,67.0 136.8,62.0 135.5,44.5 131.8,29.5 139.3,16.9Z" fill="#fff" fill-rule="evenodd" filter="url(#cl1)"/><path d="M164.3,42.0 173.1,48.3 174.3,79.6 166.8,82.1 159.3,62.0Z" fill="#fff" fill-rule="evenodd" filter="url(#cl1)"/><use href="#landRT"/></g><rect x="0" y="0" width="184.4" height="141.6" fill="none" stroke="#a4a4a4" stroke-width="1"/><text x="4.5" y="15.3" font-size="17">F</text><text x="178.4" y="137.3" font-size="18" text-anchor="end">January, 30th, 2023</text></g>
<g transform="translate(932.3,379.8)"><g clip-path="url(#clipRT)"><g clip-path="url(#dataRT)"><g filter="url(#fR6)"><rect x="-60" y="-60" width="310" height="340" fill="#606060"/><polygon points="95.4,-3.8 125.4,-3.8 125.4,16.2 105.4,25.0 97.9,16.2" fill="#202020" filter="url(#gb3)"/><polygon points="102.9,30.0 129.2,30.0 130.5,53.8 117.9,58.8 112.9,66.3 102.9,71.4 105.4,61.3 117.9,47.6 105.4,38.8" fill="#202020" filter="url(#gb3)"/><polygon points="91.6,71.4 102.9,68.8 104.2,103.9 95.4,103.9 91.6,86.4" fill="#202020" filter="url(#gb3)"/><polygon points="87.9,116.4 102.9,118.9 92.9,145.2 80.4,145.2" fill="#202020" filter="url(#gb3)"/><polygon points="55.3,-3.8 92.9,-3.8 90.4,16.2 80.4,28.8 85.4,53.8 90.4,78.9 80.4,103.9 75.4,145.2 55.3,145.2" fill="#a7a7a7" filter="url(#gb4)"/><polygon points="55.3,-3.8 72.9,-3.8 77.9,28.8 80.4,53.8 82.9,78.9 72.9,103.9 67.8,145.2 55.3,145.2" fill="#e7e7e7" filter="url(#gb3)"/></g></g><path d="M122.9,-3.8 122.9,6.2 117.9,16.2 119.2,23.8 107.9,27.5 125.4,31.3 128.0,41.3 126.7,52.6 117.9,56.3 112.9,62.6 102.9,68.8 100.4,78.9 101.7,91.4 97.9,101.4 92.9,108.9 92.9,116.4 100.4,123.9 92.9,129.0 91.6,145.2 190.6,145.2 190.6,-3.8Z" fill="#fff" fill-rule="evenodd" filter="url(#cl1)"/><path d="M97.9,25.0 102.9,23.8 105.4,37.5 101.7,38.8Z" fill="#fff" fill-rule="evenodd" filter="url(#cl1)"/><use href="#landRT"/></g><rect x="0" y="0" width="184.4" height="141.6" fill="none" stroke="#a4a4a4" stroke-width="1"/><text x="4.5" y="15.3" font-size="17">G</text><text x="177.4" y="137.3" font-size="18" text-anchor="end">March, 4th, 2023</text></g>
<g transform="translate(1132.0,379.8)"><g clip-path="url(#clipRT)"><g clip-path="url(#dataRT)"><g filter="url(#fR7)"><rect x="-60" y="-60" width="310" height="340" fill="#484848"/><polygon points="97.4,122.7 188.9,116.4 188.9,145.2 91.2,145.2" fill="#282828" filter="url(#gb5)"/><polygon points="110.0,-3.8 188.9,-3.8 188.9,53.8 153.8,56.3 116.2,58.8 103.7,53.8" fill="#808080" filter="url(#gb5)"/><polygon points="160.1,-3.8 188.9,-3.8 188.9,41.3 166.3,41.3" fill="#606060" filter="url(#gb5)"/><polygon points="96.2,10.0 123.7,10.0 128.8,41.3 116.2,58.8 103.7,61.3 93.7,53.8" fill="#9f9f9f" filter="url(#gb4)"/><polygon points="53.6,-3.8 111.2,-3.8 103.7,16.2 98.7,41.3 103.7,56.3 93.7,66.3 96.2,91.4 86.2,103.9 83.7,129.0 71.2,145.2 53.6,145.2" fill="#f4f4f4" filter="url(#gb3)"/></g></g><path d="M126.3,42.5 135.0,40.0 142.5,45.1 135.0,50.1 127.5,48.8Z" fill="#fff" fill-rule="evenodd" filter="url(#cl1)"/><path d="M152.6,41.3 160.1,41.3 158.8,47.6 153.2,47.6Z" fill="#fff" fill-rule="evenodd" filter="url(#cl1)"/><path d="M116.2,18.8 132.5,13.7 132.5,20.0 123.7,28.8 126.3,36.3 121.2,32.5Z" fill="#fff" fill-rule="evenodd" filter="url(#cl1)"/><path d="M168.8,8.7 183.9,7.5 182.6,16.2 172.6,16.2Z" fill="#fff" fill-rule="evenodd" filter="url(#cl1)"/><path d="M141.3,113.9 166.3,98.9 188.9,91.4 188.9,98.9 168.8,106.4 147.5,118.9Z" fill="#fff" fill-rule="evenodd" filter="url(#cl1)"/><path d="M135.0,139.0 166.3,137.7 166.3,145.2 135.0,145.2Z" fill="#fff" fill-rule="evenodd" filter="url(#cl1)"/><use href="#landRT"/></g><rect x="0" y="0" width="184.4" height="141.6" fill="none" stroke="#a4a4a4" stroke-width="1"/><text x="4.5" y="15.3" font-size="17">H</text><text x="180.4" y="137.3" font-size="18" text-anchor="end">March, 7th, 2023</text></g>
<g transform="translate(1332.0,380.8)"><g clip-path="url(#clipRT)"><g clip-path="url(#dataRT)"><g filter="url(#fR8)"><rect x="-60" y="-60" width="310" height="340" fill="#303030"/><polygon points="140.3,22.8 187.9,20.3 187.9,102.9 152.8,102.9 134.0,77.9 127.8,46.6" fill="#1e1e1e" filter="url(#gb6)"/><polygon points="95.2,57.8 115.2,60.3 110.2,77.9 95.2,70.4" fill="#1e1e1e" filter="url(#gb3)"/><polygon points="85.2,96.6 140.3,96.6 140.3,144.2 70.2,144.2" fill="#212121" filter="url(#gb5)"/><polygon points="93.9,0.2 187.9,-2.3 187.9,17.8 146.5,22.8 127.8,40.3 110.2,46.6 102.7,27.8" fill="#545454" filter="url(#gb5)"/><polygon points="90.2,75.4 115.2,70.4 117.7,85.4 97.7,92.9 85.2,87.9" fill="#686868" filter="url(#gb4)"/><polygon points="52.6,-4.8 102.7,-4.8 100.2,15.2 92.7,27.8 102.7,46.6 105.2,57.8 92.7,60.3 92.7,77.9 82.7,90.4 80.2,115.4 70.2,144.2 52.6,144.2" fill="#c7c7c7" filter="url(#gb3)"/><polygon points="52.6,-4.8 90.2,-4.8 87.7,15.2 82.7,27.8 92.7,46.6 87.7,57.8 85.2,77.9 77.7,90.4 75.2,115.4 65.1,144.2 52.6,144.2" fill="#f7f7f7" filter="url(#gb3)"/></g></g><path d="M187.9,87.9 175.3,87.9 170.3,97.9 162.8,109.2 152.8,115.4 147.8,122.9 155.3,128.0 165.3,144.2 187.9,144.2Z" fill="#fff" fill-rule="evenodd" filter="url(#cl1)"/><use href="#landRT"/></g><rect x="0" y="0" width="184.4" height="141.6" fill="none" stroke="#a4a4a4" stroke-width="1"/><text x="4.5" y="15.3" font-size="17">I</text><text x="180.4" y="137.3" font-size="18" text-anchor="end">March, 10th, 2023</text></g>
<g transform="translate(932.1,538.1)"><g clip-path="url(#clipRT)"><g clip-path="url(#dataRT)"><g filter="url(#fR9)"><rect x="-60" y="-60" width="310" height="340" fill="#515151"/><polygon points="174.5,54.5 190.8,42.0 190.8,145.9 155.7,145.9 168.2,104.6" fill="#383838" filter="url(#gb7)"/><polygon points="55.5,-3.1 120.6,-3.1 115.6,29.5 113.1,57.0 100.6,67.0 95.6,92.1 88.1,117.1 80.6,145.9 55.5,145.9" fill="#747474" filter="url(#gb5)"/><polygon points="55.5,-3.1 110.6,-3.1 105.6,29.5 105.6,54.5 93.1,64.5 90.6,92.1 80.6,110.9 73.1,145.9 55.5,145.9" fill="#afafaf" filter="url(#gb4)"/></g></g><use href="#landRT"/></g><rect x="0" y="0" width="184.4" height="141.6" fill="none" stroke="#a4a4a4" stroke-width="1"/><text x="4.5" y="15.3" font-size="17">J</text><path d="M165.5,15.7 L180.5,15.7 L173,4.4 Z" fill="#000"/><text x="175.4" y="137.3" font-size="18" text-anchor="end">April, 8th, 2023</text></g>
<g transform="translate(1132.0,538.1)"><g clip-path="url(#clipRT)"><g clip-path="url(#dataRT)"><g filter="url(#fR10)"><rect x="-60" y="-60" width="310" height="340" fill="#3b3b3b"/><polygon points="176.3,-3.1 188.9,-3.1 188.9,145.9 178.9,145.9 172.6,79.6" fill="#252525" filter="url(#gb5)"/><polygon points="53.6,-3.1 153.8,-3.1 156.3,42.0 153.8,92.1 141.3,129.7 116.2,145.9 53.6,145.9" fill="#787878" filter="url(#gb6)"/><polygon points="53.6,-3.1 121.2,-3.1 116.2,29.5 111.2,59.5 103.7,92.1 93.7,117.1 86.2,145.9 53.6,145.9" fill="#a7a7a7" filter="url(#gb4)"/><polygon points="53.6,-3.1 103.7,-3.1 101.2,29.5 103.7,54.5 98.7,79.6 88.7,104.6 81.2,129.7 73.7,145.9 53.6,145.9" fill="#f4f4f4" filter="url(#gb3)"/></g></g><path d="M103.7,24.5 116.2,27.0 120.0,39.5 111.2,44.5 103.7,42.0Z" fill="#fff" fill-rule="evenodd" filter="url(#cl1)"/><path d="M173.8,16.9 188.9,16.9 188.9,92.1 178.9,117.1 166.3,145.9 135.0,145.9 153.8,98.3 172.6,79.6Z" fill="#fff" filter="url(#sp10_58)"/><use href="#landRT"/></g><rect x="0" y="0" width="184.4" height="141.6" fill="none" stroke="#a4a4a4" stroke-width="1"/><text x="4.5" y="15.3" font-size="17">K</text><text x="178.4" y="137.3" font-size="18" text-anchor="end">April, 9th, 2023</text></g>
<g transform="translate(1332.3,538.1)"><g clip-path="url(#clipRT)"><g clip-path="url(#dataRT)"><g filter="url(#fR11)"><rect x="-60" y="-60" width="310" height="340" fill="#383838"/><polygon points="140.0,-3.1 187.6,-3.1 187.6,16.9 152.5,14.4" fill="#808080" filter="url(#gb4)"/><polygon points="146.2,94.6 187.6,79.6 187.6,117.1 114.9,117.1 127.5,110.9" fill="#808080" filter="url(#gb4)"/><polygon points="77.4,104.6 102.4,104.6 102.4,117.1 67.3,145.9 59.8,145.9" fill="#808080" filter="url(#gb4)"/><polygon points="102.4,77.1 140.0,62.0 146.2,87.1 114.9,92.1" fill="#252525" filter="url(#gb4)"/><polygon points="52.3,-3.1 140.0,-3.1 133.7,29.5 125.0,57.0 112.4,67.0 102.4,77.1 89.9,94.6 77.4,117.1 64.8,145.9 52.3,145.9" fill="#a1a1a1" filter="url(#gb4)"/><polygon points="162.5,133.4 187.6,133.4 187.6,145.9 162.5,145.9" fill="#878787"/></g></g><path d="M52.3,-3.1 89.9,-3.1 87.4,29.5 89.9,54.5 102.4,69.5 102.4,79.6 89.9,92.1 77.4,117.1 67.3,145.9 52.3,145.9Z" fill="#fff" fill-rule="evenodd" filter="url(#cl1)"/><path d="M127.5,92.1 140.0,93.3 147.5,102.1 140.0,110.9 127.5,112.1 114.9,104.6Z" fill="#fff" fill-rule="evenodd" filter="url(#cl1)"/><path d="M147.5,112.1 165.0,104.6 187.6,102.1 187.6,133.2 162.3,133.2 162.3,145.9 89.9,145.9 102.4,129.7 127.5,117.1Z" fill="#fff" fill-rule="evenodd" filter="url(#cl1)"/><path d="M102.4,97.1 114.9,92.1 114.9,95.8 104.9,102.1Z" fill="#fff" fill-rule="evenodd" filter="url(#cl1)"/><use href="#landRT"/></g><rect x="0" y="0" width="184.4" height="141.6" fill="none" stroke="#a4a4a4" stroke-width="1"/><text x="4.5" y="15.3" font-size="17">L</text><text x="180.4" y="137.3" font-size="18" text-anchor="end">April, 30th, 2023</text></g>
<g transform="translate(932.4,691.8)"><g clip-path="url(#clipRB)"><g clip-path="url(#swR12)"><g filter="url(#fR12)"><rect x="-60" y="-60" width="310" height="340" fill="#252525"/><polygon points="-2.1,-8.8 109.2,-8.8 109.2,35.4 98.6,65.4 88.0,90.1 70.3,121.9 49.1,150.2 27.9,174.9 10.3,213.8 -2.1,213.8" fill="#707070" filter="url(#gb4)"/><polygon points="-2.1,-8.8 80.9,-8.8 80.9,44.2 77.4,76.0 59.7,100.7 42.1,125.5 24.4,146.7 10.3,164.3 -2.1,171.4" fill="#b7b7b7" filter="url(#gb5)"/></g></g><path d="M188.7,8.9 184.3,20.9 151.6,29.2 142.8,44.2 119.8,58.3 105.7,70.7 98.6,90.1 88.0,104.3 80.9,121.9 68.6,132.5 63.3,150.2 45.6,164.3 31.5,178.5 24.4,194.4 19.1,213.8 188.7,213.8ZM70.3,167.9 84.5,153.7 102.1,148.4 123.3,153.7 137.5,160.8 155.1,155.5 162.2,174.9 144.5,196.1 105.7,208.5 70.3,203.2 59.7,185.5Z" fill="#fff" fill-rule="evenodd" filter="url(#cl1)"/><path d="M56.2,146.7 165.7,146.7 165.7,212.0 56.2,212.0Z" fill="#fff" filter="url(#sp12_62)"/><use href="#landRB"/></g><rect x="0" y="0" width="184.4" height="209.6" fill="none" stroke="#a4a4a4" stroke-width="1"/><text x="4.5" y="15.3" font-size="17">M</text><text x="180.4" y="205.3" font-size="18" text-anchor="end">January, 6th, 2023</text></g>
<g transform="translate(1131.5,691.8)"><g clip-path="url(#clipRB)"><g clip-path="url(#swR13)"><g filter="url(#fR13)"><rect x="-60" y="-60" width="310" height="340" fill="#282828"/><polygon points="-3.2,-8.8 122.2,-8.8 122.2,30.1 115.2,61.9 97.5,90.1 76.3,125.5 44.5,159.0 9.2,185.5 -3.2,194.4" fill="#787878" filter="url(#gb5)"/><polygon points="-3.2,-8.8 97.5,-8.8 97.5,35.4 101.0,47.7 90.4,79.5 62.2,114.9 35.7,150.2 9.2,167.9 -3.2,176.7" fill="#bfbfbf" filter="url(#gb5)"/></g></g><path d="M-3.2,194.4 44.5,167.9 79.8,153.7 90.4,167.9 115.2,176.7 143.4,153.7 187.6,114.9 187.6,213.8 -3.2,213.8Z" fill="#fff" fill-rule="evenodd" filter="url(#cl1)"/><path d="M122.2,65.4 132.8,67.2 136.4,83.1 129.3,104.3 118.7,125.5 111.6,143.1 101.0,150.2 95.7,132.5 97.5,114.9 94.0,111.3 104.6,100.7 111.6,86.6Z" fill="#fff" fill-rule="evenodd" filter="url(#cl1)"/><path d="M136.4,44.2 187.6,17.7 187.6,150.2 115.2,167.9 132.8,104.3Z" fill="#fff" filter="url(#sp13_65)"/><use href="#landRB"/></g><rect x="0" y="0" width="184.4" height="209.6" fill="none" stroke="#a4a4a4" stroke-width="1"/><text x="4.5" y="15.3" font-size="17">N</text><text x="178.4" y="205.3" font-size="18" text-anchor="end">January, 18th, 2023</text></g>
<g transform="translate(1332.1,692.7)"><g clip-path="url(#clipRB)"><g clip-path="url(#swR14)"><g filter="url(#fR14)"><rect x="-60" y="-60" width="310" height="340" fill="#282828"/><polygon points="-4.8,-9.7 95.9,-9.7 95.9,38.0 88.8,69.8 74.7,96.3 57.0,114.0 42.9,140.5 34.1,167.0 7.6,175.8 -4.8,177.6" fill="#686868" filter="url(#gb5)"/><polygon points="-4.8,-9.7 74.7,-9.7 74.7,45.1 64.1,78.6 42.9,105.1 25.2,131.6 7.6,149.3 -4.8,158.1" fill="#afafaf" filter="url(#gb4)"/></g></g><path d="M129.1,8.0 187.8,8.0 187.8,214.7 129.1,214.7Z" fill="#fff"/><path d="M124.2,28.3 127.7,50.4 124.2,61.0 113.6,69.8 103.0,82.2 95.9,96.3 88.8,103.4 78.2,110.4 81.8,124.6 74.7,135.2 60.6,140.5 48.2,145.8 41.1,152.8 42.9,163.4 50.0,170.5 48.2,181.1 39.4,184.6 30.5,181.1 32.3,193.5 25.2,212.9 186.0,212.9 186.0,13.3Z" fill="#fff" fill-rule="evenodd" filter="url(#cl1)"/><use href="#landRB"/></g><rect x="0" y="0" width="184.4" height="209.6" fill="none" stroke="#a4a4a4" stroke-width="1"/><text x="4.5" y="15.3" font-size="17">O</text><text x="181.7" y="205.3" font-size="18" text-anchor="end">January, 30th, 2023</text></g>
<g transform="translate(933.0,916.0)"><g clip-path="url(#clipRB)"><g clip-path="url(#swR15)"><g filter="url(#fR15)"><rect x="-60" y="-60" width="310" height="340" fill="#282828"/><polygon points="36.2,98.0 80.3,90.9 76.8,133.3 62.7,168.7 27.3,186.3 9.7,186.3" fill="#505050" filter="url(#gb5)"/><polygon points="101.5,13.2 129.8,6.1 122.7,27.3 105.1,30.9" fill="#585858" filter="url(#gb3)"/><polygon points="-2.7,-8.0 98.0,-8.0 98.0,13.2 90.9,45.0 76.8,80.3 59.1,101.5 34.4,129.8 13.2,151.0 -2.7,168.7" fill="#707070" filter="url(#gb4)"/><polygon points="-2.7,-8.0 83.9,-8.0 83.9,18.5 80.3,45.0 66.2,76.8 48.5,98.0 27.3,119.2 9.7,136.9 -2.7,147.5" fill="#dfdfdf" filter="url(#gb4)"/></g></g><path d="M137.8,-15.1 136.0,2.6 133.3,9.7 119.2,27.3 115.7,45.0 122.7,62.7 115.7,80.3 108.6,98.0 90.9,115.7 75.0,133.3 83.9,168.7 87.4,186.3 90.9,151.0 108.6,133.3 136.9,129.8 138.6,138.6 143.9,129.8 151.0,122.7 168.7,126.3 188.1,133.3 188.1,-15.1Z" fill="#fff" fill-rule="evenodd" filter="url(#cl1)"/><path d="M59.1,158.1 69.7,147.5 69.7,168.7 66.2,184.6 60.9,179.3 64.4,165.1Z" fill="#fff" fill-rule="evenodd" filter="url(#cl1)"/><use href="#landRB"/></g><rect x="0" y="0" width="184.4" height="209.6" fill="none" stroke="#a4a4a4" stroke-width="1"/><text x="4.5" y="15.3" font-size="17">P</text><text x="176.8" y="205.3" font-size="18" text-anchor="end">March, 4th, 2023</text></g>
<g transform="translate(1131.8,916.0)"><g clip-path="url(#clipRB)"><g clip-path="url(#swR16)"><g filter="url(#fR16)"><rect x="-60" y="-60" width="310" height="340" fill="#2b2b2b"/><polygon points="97.2,9.7 167.9,2.6 167.9,36.2 114.9,45.0" fill="#4b4b4b" filter="url(#gb5)"/><polygon points="143.1,37.9 187.3,34.4 187.3,98.0 150.2,90.9" fill="#484848" filter="url(#gb6)"/><polygon points="90.1,182.8 150.2,179.3 150.2,204.0 90.1,204.0" fill="#484848" filter="url(#gb5)"/><polygon points="-3.5,-8.0 111.3,-8.0 111.3,11.4 107.8,45.0 90.1,73.3 61.9,98.0 37.1,126.3 19.5,159.8 -3.5,168.7" fill="#787878" filter="url(#gb4)"/><polygon points="-3.5,-8.0 97.2,-8.0 97.2,15.0 90.1,45.0 76.0,71.5 54.8,98.0 30.1,124.5 8.9,151.0 -3.5,159.8" fill="#e7e7e7" filter="url(#gb4)"/></g></g><path d="M132.5,39.7 139.6,41.5 141.4,52.1 150.2,52.1 143.1,62.7 136.1,80.3 129.0,90.9 118.4,101.5 104.3,115.7 97.2,129.8 86.6,136.9 79.5,151.0 76.0,158.1 68.9,143.9 58.3,145.7 44.2,149.2 42.4,142.2 51.3,129.8 61.9,115.7 76.0,101.5 83.1,98.0 90.1,83.9 86.6,80.3 100.7,76.8 114.9,73.3 125.5,52.1Z" fill="#fff" fill-rule="evenodd" filter="url(#cl1)"/><path d="M97.2,151.0 107.8,145.7 114.9,159.8 116.6,175.7 104.3,182.8 90.1,186.3 83.1,175.7 97.2,168.7Z" fill="#fff" fill-rule="evenodd" filter="url(#cl1)"/><path d="M49.5,168.7 56.6,168.7 61.9,182.8 54.8,184.6Z" fill="#fff" fill-rule="evenodd" filter="url(#cl1)"/><use href="#landRB"/></g><rect x="0" y="0" width="184.4" height="209.6" fill="none" stroke="#a4a4a4" stroke-width="1"/><text x="4.5" y="15.3" font-size="17">Q</text><text x="179.4" y="205.3" font-size="18" text-anchor="end">March, 7th, 2023</text></g>
<g transform="translate(1331.2,916.5)"><g clip-path="url(#clipRB)"><g clip-path="url(#swR17)"><g filter="url(#fR17)"><rect x="-60" y="-60" width="310" height="340" fill="#919191"/><polygon points="103.9,26.8 149.8,14.5 186.9,9.2 186.9,79.8 160.4,90.4 149.8,104.6 125.1,108.1 96.8,104.6 93.3,71.0" fill="#404040" filter="url(#gb4)"/><polygon points="89.7,129.3 149.8,132.8 149.8,159.3 96.8,150.5" fill="#686868" filter="url(#gb5)"/><polygon points="-3.9,-8.5 103.9,-8.5 103.9,26.8 96.8,62.2 79.1,90.4 50.9,125.8 33.2,168.2 8.5,168.2 -3.9,168.2" fill="#b7b7b7" filter="url(#gb5)"/><polygon points="-3.9,-8.5 96.8,-8.5 96.8,25.1 89.7,53.3 72.1,79.8 43.8,115.2 26.1,132.8 8.5,141.7 -3.9,147.0" fill="#efefef" filter="url(#gb4)"/></g></g><path d="M139.2,18.0 186.9,3.9 186.9,90.4 163.9,86.9 149.8,65.7 142.7,44.5Z" fill="#fff" filter="url(#sp17_74)"/><path d="M100.3,62.2 107.4,51.6 125.1,58.6 121.5,65.7 107.4,67.5Z" fill="#fff" fill-rule="evenodd" filter="url(#cl1)"/><use href="#landRB"/></g><rect x="0" y="0" width="184.4" height="209.6" fill="none" stroke="#a4a4a4" stroke-width="1"/><text x="4.5" y="15.3" font-size="17">R</text><text x="179.9" y="205.3" font-size="18" text-anchor="end">April, 9th, 2023</text></g>
<text x="995.0" y="58.2" font-size="22" text-anchor="middle">122°E</text>
<text x="1091.0" y="58.2" font-size="22" text-anchor="middle">124°E</text>
<text x="1192.7" y="58.2" font-size="22" text-anchor="middle">122°E</text>
<text x="1288.7" y="58.2" font-size="22" text-anchor="middle">124°E</text>
<text x="1391.7" y="58.2" font-size="22" text-anchor="middle">122°E</text>
<text x="1487.7" y="58.2" font-size="22" text-anchor="middle">124°E</text>
<text x="923" y="81.6" font-size="22" text-anchor="end">31°N</text>
<text x="923" y="206.6" font-size="22" text-anchor="end">29°N</text>
<text x="923" y="237.8" font-size="22" text-anchor="end">31°N</text>
<text x="923" y="362.8" font-size="22" text-anchor="end">29°N</text>
<text x="923" y="395.4" font-size="22" text-anchor="end">31°N</text>
<text x="923" y="520.4" font-size="22" text-anchor="end">29°N</text>
<text x="923" y="554.2" font-size="22" text-anchor="end">31°N</text>
<text x="923" y="679.2" font-size="22" text-anchor="end">29°N</text>
<text x="923" y="707.3" font-size="22" text-anchor="end">29°N</text>
<text x="923" y="804.3" font-size="22" text-anchor="end">28°N</text>
<text x="923" y="900.8" font-size="22" text-anchor="end">27°N</text>
<text x="923" y="931.5" font-size="22" text-anchor="end">29°N</text>
<text x="923" y="1028.5" font-size="22" text-anchor="end">28°N</text>
<text x="923" y="1125.0" font-size="22" text-anchor="end">27°N</text>
<rect x="936.80" y="1136.3" width="33.94" height="20.7" fill="#084081"/>
<rect x="970.34" y="1136.3" width="33.94" height="20.7" fill="#0a5da3"/>
<rect x="1003.89" y="1136.3" width="33.94" height="20.7" fill="#1070b3"/>
<rect x="1037.43" y="1136.3" width="33.94" height="20.7" fill="#2081bb"/>
<rect x="1070.97" y="1136.3" width="33.94" height="20.7" fill="#3293c5"/>
<rect x="1104.52" y="1136.3" width="33.94" height="20.7" fill="#45a6cf"/>
<rect x="1138.06" y="1136.3" width="33.94" height="20.7" fill="#5bb8d3"/>
<rect x="1171.61" y="1136.3" width="33.94" height="20.7" fill="#72c7cc"/>
<rect x="1205.15" y="1136.3" width="33.94" height="20.7" fill="#88d0c2"/>
<rect x="1238.69" y="1136.3" width="33.94" height="20.7" fill="#a0d9b9"/>
<rect x="1272.24" y="1136.3" width="33.94" height="20.7" fill="#b3e1bb"/>
<rect x="1305.78" y="1136.3" width="33.94" height="20.7" fill="#c4e8c2"/>
<rect x="1339.33" y="1136.3" width="33.94" height="20.7" fill="#d3edcd"/>
<rect x="1372.87" y="1136.3" width="33.94" height="20.7" fill="#e0f3db"/>
<rect x="1406.41" y="1136.3" width="33.94" height="20.7" fill="#ebf7e5"/>
<rect x="1439.96" y="1136.3" width="33.94" height="20.7" fill="#f7fcf0"/>
<rect x="936.8" y="1136.3" width="536.7" height="20.7" fill="none" stroke="#444" stroke-width="0.8"/>
<text x="937.8" y="1181.6" font-size="22" text-anchor="middle">0</text>
<text x="1070.6" y="1181.6" font-size="22" text-anchor="middle">0.5</text>
<text x="1208.4" y="1181.6" font-size="22" text-anchor="middle">1.0</text>
<text x="1338.4" y="1181.6" font-size="22" text-anchor="middle">1.5</text>
<text x="1462.6" y="1181.6" font-size="22" text-anchor="middle">2.0</text>
<text x="1476" y="1154.5" font-size="22">mg/m<tspan dy="-8" font-size="14">3</tspan></text>
<text x="872.5" y="1252" font-size="28.5" font-weight="bold">b.</text>
<text x="1202" y="1252" font-size="27.3" font-weight="bold" text-anchor="middle">Chl-a</text>
<g transform="translate(1553.9,43)"><circle r="20.6" fill="#fff" stroke="#2a2321" stroke-width="2.2"/><path d="M0,-20.5 L-9.8,18 L0.8,7.4 Z" fill="#332a28" stroke="#2a2321" stroke-width="1.2" stroke-linejoin="round"/><path d="M0,-20.5 L10.3,17.6 L0.8,7.4" fill="none" stroke="#2a2321" stroke-width="1.6" stroke-linejoin="round"/></g>
</svg></body></html>
